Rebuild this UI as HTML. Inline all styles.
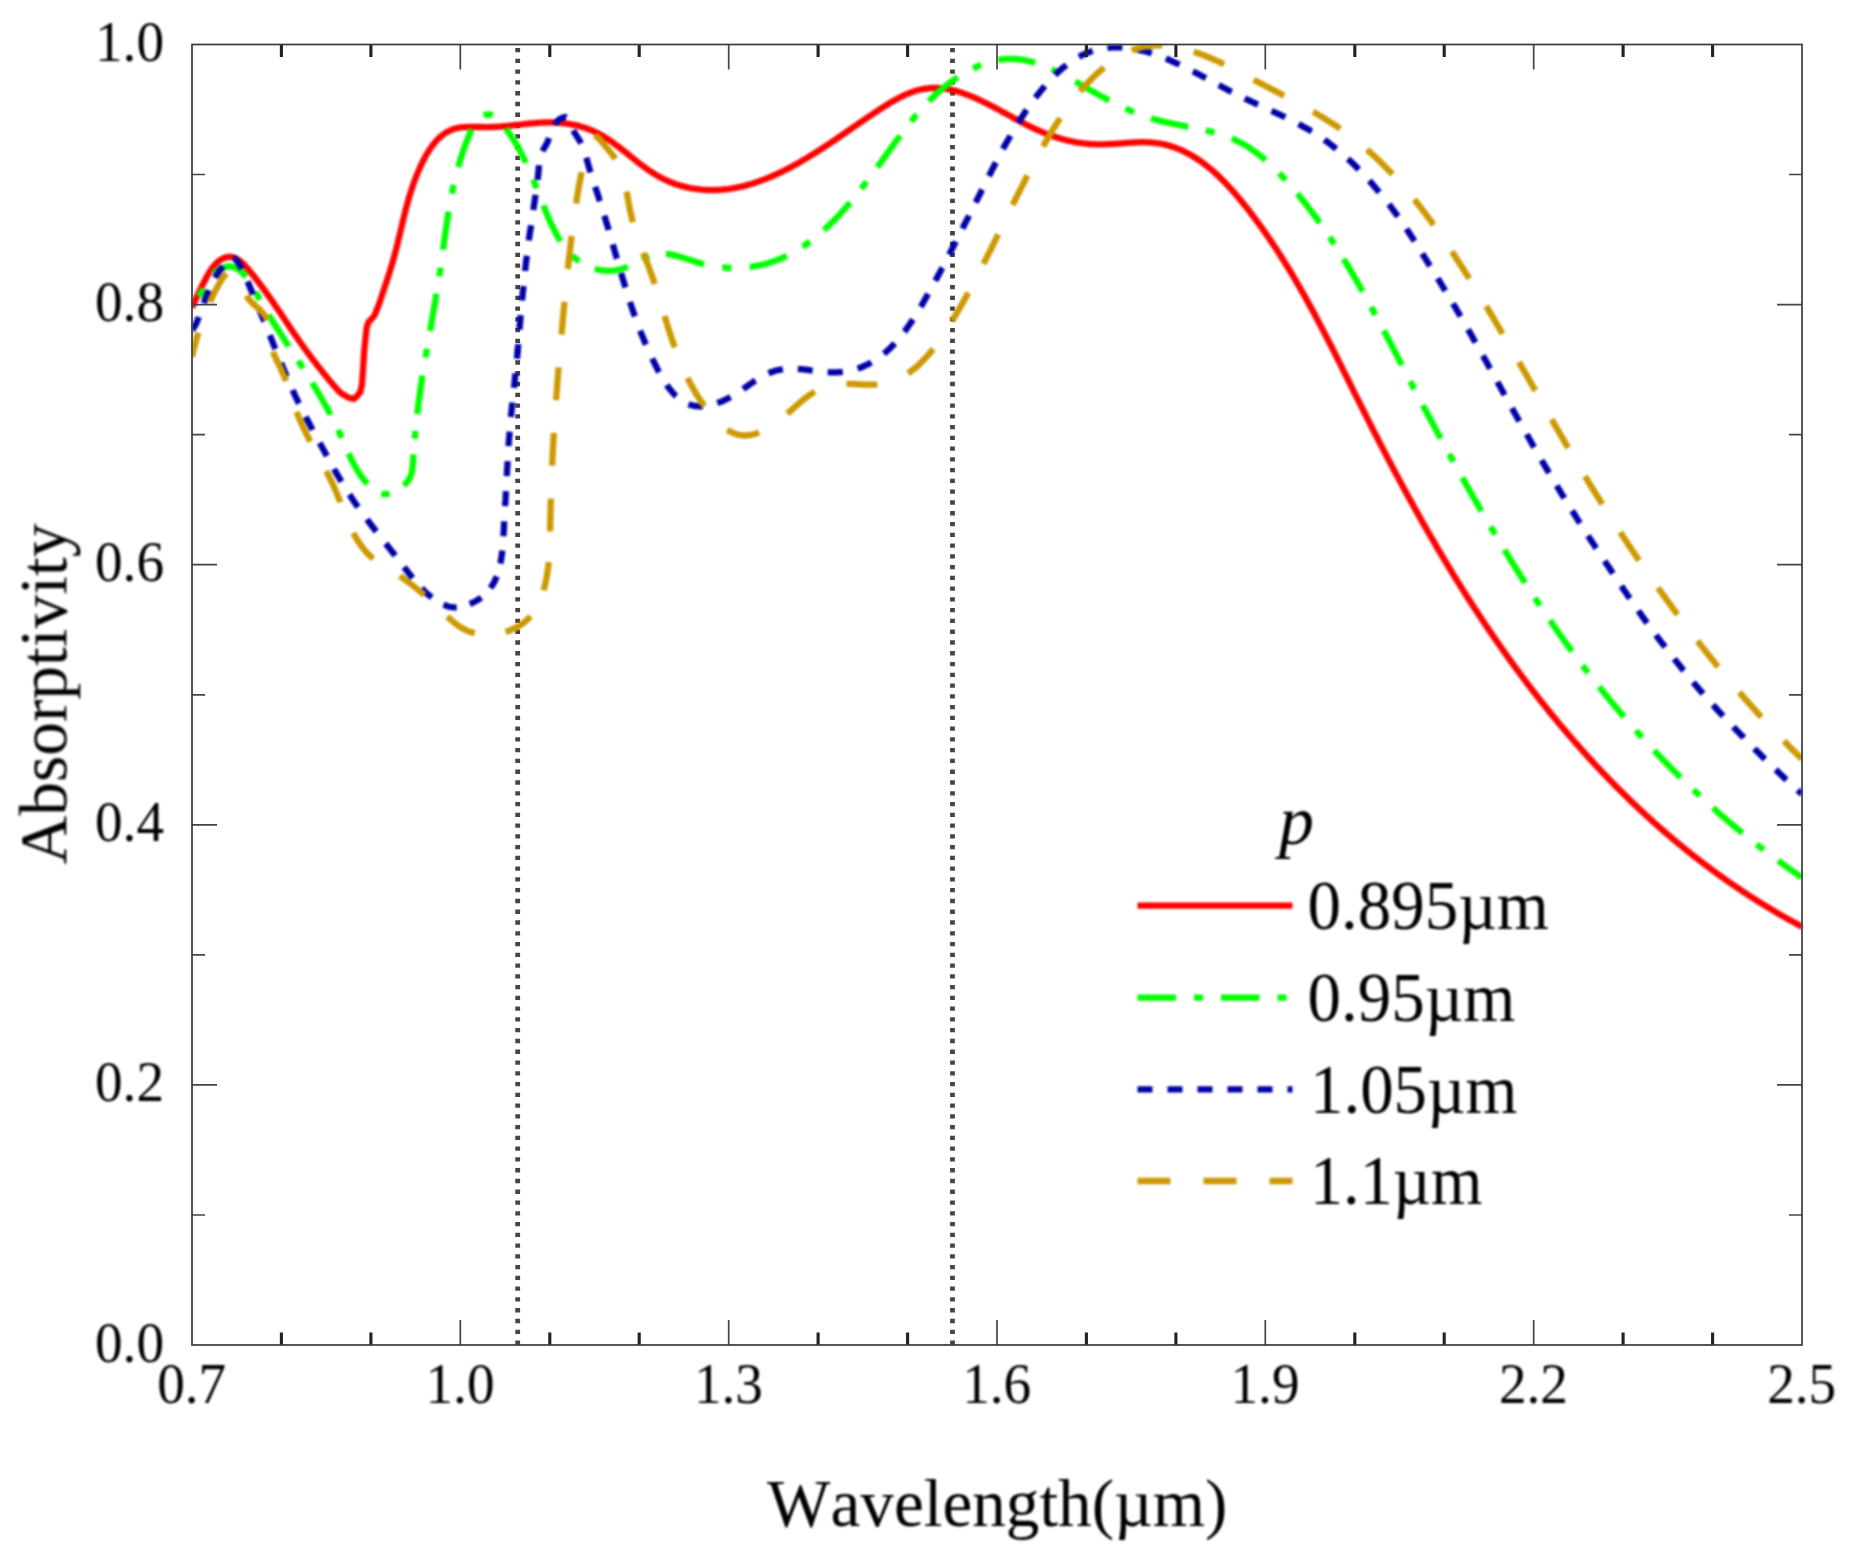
<!DOCTYPE html><html><head><meta charset="utf-8"><title>Absorptivity vs Wavelength</title>
<style>html,body{margin:0;padding:0;background:#fff}svg{display:block}text{font-family:"Liberation Serif","Times New Roman",serif;fill:#000;font-kerning:none;stroke:none}</style></head><body>
<svg width="1856" height="1557" viewBox="0 0 1856 1557">
<rect width="1856" height="1557" fill="#fff"/>
<defs><filter id="soft" x="0" y="0" width="1856" height="1557" filterUnits="userSpaceOnUse" color-interpolation-filters="sRGB"><feGaussianBlur stdDeviation="0.8"/></filter></defs>
<line x1="517.7" y1="48.0" x2="517.7" y2="1345.0" stroke="#454545" stroke-width="4.8" stroke-dasharray="4.3 6.47"/>
<line x1="952.5" y1="48.0" x2="952.5" y2="1345.0" stroke="#454545" stroke-width="4.8" stroke-dasharray="4.3 6.47"/>
<g filter="url(#soft)">
<defs><clipPath id="c"><rect x="192.0" y="44.5" width="1610.0" height="1300.5"/></clipPath></defs>

<g clip-path="url(#c)" fill="none" stroke-linejoin="round" stroke-width="6.3">
<path d="M192.0 307.7L192.8 305.8L193.6 303.9L194.4 302.1L195.3 300.2L196.1 298.4L196.9 296.6L197.7 294.8L198.6 293.1L199.4 291.3L200.3 289.5L201.2 287.8L202.0 286.0L202.9 284.2L203.8 282.4L204.8 280.6L205.7 278.8L206.6 277.0L207.6 275.2L208.6 273.5L209.7 271.7L210.8 270.0L212.0 268.3L213.2 266.7L214.5 265.2L215.8 263.7L217.3 262.3L218.8 261.1L220.4 259.9L222.1 258.9L224.0 258.0L225.9 257.4L227.8 256.9L229.8 256.8L231.7 257.0L233.7 257.5L235.5 258.3L237.4 259.2L239.1 260.4L240.7 261.6L242.2 262.9L243.7 264.3L245.1 265.8L246.5 267.3L247.8 268.9L249.1 270.4L250.4 272.0L251.7 273.6L253.0 275.1L254.3 276.7L255.5 278.3L256.8 279.9L258.0 281.5L259.2 283.1L260.4 284.7L261.6 286.3L262.8 287.9L264.0 289.5L265.2 291.1L266.3 292.8L267.5 294.4L268.6 296.0L269.8 297.6L270.9 299.2L272.1 300.9L273.2 302.5L274.3 304.1L275.4 305.8L276.5 307.4L277.6 309.0L278.8 310.7L279.9 312.3L281.0 314.0L282.1 315.6L283.2 317.2L284.3 318.9L285.4 320.5L286.5 322.2L287.6 323.8L288.7 325.5L289.8 327.1L290.9 328.7L292.0 330.4L293.1 332.0L294.2 333.6L295.4 335.3L296.5 336.9L297.6 338.5L298.8 340.2L299.9 341.8L301.1 343.4L302.2 345.1L303.4 346.7L304.5 348.3L305.7 349.9L306.9 351.5L308.1 353.1L309.3 354.7L310.5 356.4L311.7 358.0L312.9 359.6L314.1 361.1L315.3 362.7L316.5 364.3L317.8 365.9L319.0 367.5L320.3 369.1L321.5 370.6L322.8 372.2L324.0 373.8L325.3 375.3L326.6 376.9L327.8 378.4L329.1 380.0L330.4 381.5L331.7 383.0L333.0 384.6L334.3 386.1L335.6 387.6L337.0 389.1L338.3 390.6L339.8 392.0L341.3 393.4L342.9 394.7L343.7 394.5L348.0 397.5L353.7 399.0L357.0 396.2L360.5 391.5L362.0 384.0L363.0 370.0L364.3 350.0L365.5 338.0L366.8 327.0L368.5 322.0L372.0 318.5L374.5 315.5L378.7 305.0L380.1 300.9L380.8 299.0L381.4 297.1L382.0 295.1L382.7 293.2L383.3 291.3L384.0 289.4L384.6 287.5L385.2 285.6L385.9 283.7L386.5 281.8L387.1 279.9L387.7 278.0L388.3 276.1L389.0 274.1L389.6 272.2L390.2 270.3L390.7 268.4L391.3 266.5L391.9 264.6L392.5 262.7L393.0 260.8L393.5 258.9L394.1 257.0L394.6 255.0L395.1 253.1L395.6 251.2L396.1 249.3L396.6 247.4L397.1 245.4L397.6 243.5L398.0 241.6L398.5 239.7L398.9 237.7L399.4 235.8L399.9 233.9L400.3 232.0L400.8 230.0L401.2 228.1L401.7 226.2L402.1 224.3L402.6 222.3L403.1 220.4L403.5 218.5L404.0 216.6L404.5 214.6L405.0 212.7L405.4 210.8L405.9 208.9L406.4 206.9L407.0 205.0L407.5 203.1L408.0 201.2L408.6 199.2L409.1 197.3L409.7 195.4L410.3 193.5L410.9 191.5L411.5 189.6L412.1 187.7L412.8 185.8L413.4 183.9L414.1 182.0L414.8 180.0L415.5 178.1L416.3 176.2L417.1 174.3L417.8 172.4L418.7 170.5L419.5 168.6L420.3 166.7L421.2 164.8L422.1 162.9L423.1 161.0L424.0 159.1L425.0 157.3L426.0 155.4L427.1 153.6L428.2 151.9L429.3 150.1L430.4 148.4L431.6 146.7L432.8 145.1L434.1 143.5L435.3 142.0L436.6 140.5L438.0 139.1L439.4 137.8L440.8 136.5L442.3 135.3L443.8 134.1L445.3 133.1L446.9 132.1L448.6 131.2L450.2 130.4L452.0 129.7L453.7 129.0L455.5 128.5L457.4 128.1L459.3 127.7L461.2 127.4L463.2 127.2L465.1 127.1L467.2 127.0L469.2 126.9L471.2 126.9L473.3 126.9L475.4 126.9L477.5 127.0L479.5 127.0L481.6 127.0L483.7 127.1L485.8 127.1L487.9 127.1L490.0 127.1L492.0 127.0L494.1 126.9L496.1 126.8L498.2 126.7L500.2 126.6L502.2 126.4L504.3 126.2L506.3 126.1L508.3 125.9L510.3 125.7L512.3 125.5L514.3 125.2L516.3 125.0L518.3 124.8L520.3 124.6L522.2 124.4L524.2 124.1L526.2 123.9L528.2 123.7L530.1 123.5L532.1 123.3L534.1 123.2L536.0 123.0L538.0 122.9L540.0 122.7L541.9 122.6L543.9 122.5L545.8 122.5L547.8 122.4L549.8 122.4L551.7 122.5L553.7 122.5L555.7 122.6L557.7 122.7L559.6 122.8L561.6 123.0L563.6 123.2L565.5 123.5L567.5 123.7L569.5 124.0L571.4 124.4L573.3 124.8L575.3 125.2L577.2 125.6L579.1 126.1L581.0 126.7L582.9 127.2L584.8 127.8L586.7 128.5L588.5 129.2L590.4 129.9L592.2 130.6L594.0 131.4L595.8 132.3L597.5 133.1L599.3 134.1L601.0 135.0L602.7 136.0L604.4 137.0L606.1 138.0L607.8 139.1L609.4 140.2L611.1 141.3L612.7 142.5L614.3 143.7L615.9 144.9L617.6 146.1L619.2 147.3L620.7 148.5L622.3 149.8L623.9 151.0L625.5 152.3L627.1 153.5L628.7 154.8L630.3 156.1L631.8 157.4L633.4 158.6L635.0 159.9L636.6 161.2L638.2 162.4L639.8 163.7L641.4 164.9L643.0 166.1L644.7 167.3L646.3 168.5L648.0 169.7L649.6 170.8L651.3 171.9L653.0 173.0L654.7 174.1L656.4 175.1L658.1 176.2L659.9 177.1L661.7 178.1L663.5 179.0L665.3 179.9L667.1 180.7L668.9 181.5L670.8 182.3L672.7 183.0L674.6 183.7L676.5 184.4L678.4 185.0L680.3 185.6L682.3 186.1L684.2 186.6L686.2 187.1L688.1 187.6L690.1 188.0L692.1 188.3L694.1 188.7L696.1 189.0L698.1 189.2L700.1 189.5L702.1 189.7L704.1 189.8L706.1 189.9L708.1 190.0L710.0 190.1L712.0 190.1L714.0 190.1L716.0 190.0L718.0 190.0L720.0 189.8L722.0 189.7L723.9 189.5L725.9 189.3L727.9 189.1L729.8 188.8L731.8 188.5L733.7 188.2L735.7 187.8L737.6 187.4L739.6 187.0L741.5 186.6L743.5 186.1L745.4 185.6L747.3 185.1L749.2 184.5L751.1 184.0L753.1 183.4L755.0 182.8L756.9 182.1L758.8 181.5L760.6 180.8L762.5 180.1L764.4 179.4L766.3 178.6L768.2 177.9L770.0 177.1L771.9 176.3L773.7 175.5L775.6 174.7L777.4 173.8L779.2 173.0L781.1 172.1L782.9 171.2L784.7 170.3L786.5 169.4L788.3 168.5L790.1 167.5L791.9 166.6L793.7 165.6L795.4 164.6L797.2 163.7L799.0 162.7L800.7 161.7L802.4 160.6L804.2 159.6L805.9 158.6L807.6 157.6L809.3 156.5L811.0 155.5L812.7 154.4L814.4 153.4L816.1 152.3L817.8 151.2L819.5 150.2L821.1 149.1L822.8 148.0L824.4 146.9L826.1 145.9L827.7 144.8L829.4 143.7L831.0 142.6L832.6 141.5L834.3 140.4L835.9 139.3L837.5 138.2L839.1 137.0L840.8 135.9L842.4 134.8L844.0 133.7L845.6 132.6L847.3 131.4L848.9 130.3L850.5 129.2L852.2 128.1L853.8 126.9L855.4 125.8L857.1 124.7L858.7 123.5L860.4 122.4L862.0 121.3L863.7 120.1L865.3 119.0L867.0 117.9L868.7 116.7L870.4 115.6L872.0 114.5L873.7 113.3L875.4 112.2L877.2 111.1L878.9 109.9L880.6 108.8L882.3 107.7L884.1 106.6L885.8 105.5L887.6 104.4L889.4 103.3L891.1 102.2L892.9 101.2L894.7 100.2L896.5 99.2L898.3 98.2L900.1 97.3L902.0 96.4L903.8 95.5L905.6 94.7L907.5 93.9L909.3 93.1L911.2 92.4L913.0 91.7L914.9 91.1L916.8 90.5L918.7 90.0L920.5 89.5L922.4 89.1L924.3 88.8L926.2 88.5L928.1 88.3L930.1 88.1L932.0 88.0L933.9 87.9L935.8 88.0L937.8 88.0L939.7 88.1L941.6 88.3L943.6 88.5L945.5 88.8L947.5 89.2L949.4 89.5L951.3 89.9L953.3 90.4L955.2 90.9L957.1 91.4L959.1 92.0L961.0 92.6L962.9 93.2L964.8 93.9L966.8 94.6L968.7 95.4L970.6 96.1L972.5 96.9L974.4 97.7L976.2 98.5L978.1 99.4L980.0 100.2L981.8 101.1L983.7 102.0L985.5 102.9L987.4 103.8L989.2 104.7L991.0 105.7L992.8 106.6L994.6 107.6L996.4 108.5L998.2 109.5L1000.0 110.4L1001.7 111.4L1003.5 112.4L1005.3 113.3L1007.0 114.3L1008.8 115.3L1010.6 116.2L1012.3 117.2L1014.1 118.2L1015.8 119.1L1017.6 120.1L1019.3 121.0L1021.1 121.9L1022.8 122.9L1024.6 123.8L1026.4 124.7L1028.1 125.6L1029.9 126.5L1031.7 127.3L1033.4 128.2L1035.2 129.0L1037.0 129.8L1038.8 130.6L1040.6 131.4L1042.4 132.1L1044.2 132.9L1046.0 133.6L1047.9 134.3L1049.7 135.0L1051.5 135.7L1053.4 136.3L1055.2 136.9L1057.1 137.5L1058.9 138.1L1060.8 138.7L1062.7 139.2L1064.6 139.7L1066.5 140.2L1068.4 140.7L1070.3 141.1L1072.2 141.5L1074.2 141.9L1076.1 142.3L1078.1 142.6L1080.0 142.9L1082.0 143.2L1084.0 143.4L1086.0 143.6L1088.0 143.8L1090.0 144.0L1092.0 144.1L1094.1 144.2L1096.1 144.3L1098.2 144.4L1100.2 144.4L1102.3 144.4L1104.4 144.3L1106.5 144.2L1108.6 144.2L1110.7 144.0L1112.8 143.9L1115.0 143.8L1117.1 143.6L1119.2 143.5L1121.3 143.3L1123.5 143.2L1125.6 143.0L1127.7 142.9L1129.8 142.7L1131.9 142.6L1134.1 142.5L1136.2 142.4L1138.2 142.3L1140.3 142.2L1142.4 142.2L1144.5 142.2L1146.5 142.3L1148.5 142.3L1150.6 142.5L1152.6 142.6L1154.5 142.8L1156.5 143.1L1158.4 143.3L1160.4 143.7L1162.3 144.0L1164.2 144.4L1166.1 144.9L1167.9 145.4L1169.8 145.9L1171.6 146.5L1173.4 147.1L1175.2 147.7L1177.0 148.4L1178.8 149.1L1180.6 149.8L1182.3 150.6L1184.0 151.4L1185.7 152.3L1187.4 153.1L1189.1 154.1L1190.8 155.0L1192.5 156.0L1194.1 157.0L1195.7 158.0L1197.3 159.0L1198.9 160.1L1200.5 161.2L1202.1 162.3L1203.7 163.5L1205.2 164.7L1206.8 165.9L1208.3 167.1L1209.8 168.4L1211.3 169.6L1212.8 170.9L1214.3 172.2L1215.8 173.6L1217.2 174.9L1218.7 176.3L1220.1 177.7L1221.5 179.1L1223.0 180.5L1224.4 181.9L1225.8 183.4L1227.2 184.8L1228.5 186.3L1229.9 187.8L1231.3 189.3L1232.6 190.8L1233.9 192.4L1235.3 193.9L1236.6 195.4L1237.9 197.0L1239.2 198.5L1240.5 200.1L1241.8 201.7L1243.1 203.3L1244.4 204.9L1245.6 206.4L1246.9 208.0L1248.2 209.6L1249.4 211.2L1250.6 212.8L1251.9 214.5L1253.1 216.1L1254.3 217.7L1255.5 219.3L1256.7 220.9L1257.9 222.6L1259.1 224.2L1260.3 225.8L1261.5 227.5L1262.7 229.1L1263.8 230.7L1265.0 232.4L1266.1 234.0L1267.3 235.7L1268.4 237.3L1269.6 239.0L1270.7 240.7L1271.8 242.3L1272.9 244.0L1274.0 245.7L1275.2 247.4L1276.3 249.0L1277.4 250.7L1278.4 252.4L1279.5 254.1L1280.6 255.8L1281.7 257.5L1282.8 259.2L1283.8 260.9L1284.9 262.6L1285.9 264.3L1287.0 266.0L1288.0 267.7L1289.1 269.4L1290.1 271.1L1291.1 272.8L1292.2 274.5L1293.2 276.2L1294.2 278.0L1295.2 279.7L1296.2 281.4L1297.2 283.2L1298.3 284.9L1299.2 286.6L1300.2 288.3L1301.2 290.1L1302.2 291.8L1303.2 293.6L1304.2 295.3L1305.2 297.1L1306.1 298.8L1307.1 300.6L1308.1 302.3L1309.0 304.1L1310.0 305.8L1311.0 307.6L1311.9 309.3L1312.9 311.1L1313.8 312.8L1314.8 314.6L1315.7 316.4L1316.6 318.1L1317.6 319.9L1318.5 321.7L1319.4 323.4L1320.4 325.2L1321.3 327.0L1322.2 328.7L1323.1 330.5L1324.1 332.3L1325.0 334.1L1325.9 335.8L1326.8 337.6L1327.7 339.4L1328.6 341.2L1329.6 343.0L1330.5 344.7L1331.4 346.5L1332.3 348.3L1333.2 350.1L1334.1 351.9L1335.0 353.7L1335.9 355.5L1336.8 357.2L1337.7 359.0L1338.6 360.8L1339.5 362.6L1340.4 364.4L1341.3 366.2L1342.2 368.0L1343.0 369.8L1343.9 371.6L1344.8 373.3L1345.7 375.1L1346.6 376.9L1347.5 378.7L1348.4 380.5L1349.3 382.3L1350.2 384.1L1351.1 385.9L1352.0 387.7L1352.8 389.5L1353.7 391.3L1354.6 393.1L1355.5 394.9L1356.4 396.6L1357.3 398.4L1358.2 400.2L1359.1 402.0L1360.0 403.8L1360.9 405.6L1361.8 407.4L1362.7 409.2L1363.6 411.0L1364.5 412.8L1365.4 414.5L1366.3 416.3L1367.2 418.1L1368.1 419.9L1369.0 421.7L1369.9 423.5L1370.8 425.3L1371.7 427.0L1372.6 428.8L1373.5 430.6L1374.4 432.4L1375.3 434.2L1376.2 436.0L1377.2 437.7L1378.1 439.5L1379.0 441.3L1379.9 443.1L1380.8 444.9L1381.7 446.6L1382.7 448.4L1383.6 450.2L1384.5 452.0L1385.4 453.7L1386.4 455.5L1387.3 457.3L1388.2 459.1L1389.1 460.8L1390.1 462.6L1391.0 464.4L1391.9 466.1L1392.9 467.9L1393.8 469.7L1394.8 471.5L1395.7 473.2L1396.6 475.0L1397.6 476.8L1398.5 478.5L1399.5 480.3L1400.4 482.0L1401.4 483.8L1402.3 485.6L1403.3 487.3L1404.2 489.1L1405.2 490.8L1406.1 492.6L1407.1 494.4L1408.0 496.1L1409.0 497.9L1410.0 499.6L1410.9 501.4L1411.9 503.1L1412.9 504.9L1413.8 506.6L1414.8 508.4L1415.8 510.1L1416.7 511.9L1417.7 513.6L1418.7 515.4L1419.7 517.1L1420.7 518.9L1421.6 520.6L1422.6 522.4L1423.6 524.1L1424.6 525.8L1425.6 527.6L1426.6 529.3L1427.6 531.0L1428.6 532.8L1429.6 534.5L1430.6 536.3L1431.6 538.0L1432.6 539.7L1433.6 541.4L1434.6 543.2L1435.6 544.9L1436.6 546.6L1437.6 548.4L1438.6 550.1L1439.6 551.8L1440.7 553.5L1441.7 555.2L1442.7 557.0L1443.7 558.7L1444.8 560.4L1445.8 562.1L1446.8 563.8L1447.9 565.5L1448.9 567.3L1449.9 569.0L1451.0 570.7L1452.0 572.4L1453.0 574.1L1454.1 575.8L1455.1 577.5L1456.2 579.2L1457.2 580.9L1458.3 582.6L1459.4 584.3L1460.4 586.0L1461.5 587.7L1462.5 589.4L1463.6 591.1L1464.7 592.8L1465.7 594.5L1466.8 596.2L1467.9 597.9L1469.0 599.5L1470.1 601.2L1471.1 602.9L1472.2 604.6L1473.3 606.3L1474.4 608.0L1475.5 609.6L1476.6 611.3L1477.7 613.0L1478.8 614.7L1479.9 616.3L1481.0 618.0L1482.1 619.7L1483.2 621.3L1484.3 623.0L1485.4 624.7L1486.5 626.3L1487.7 628.0L1488.8 629.7L1489.9 631.3L1491.0 633.0L1492.2 634.6L1493.3 636.3L1494.4 637.9L1495.6 639.6L1496.7 641.2L1497.9 642.9L1499.0 644.5L1500.2 646.2L1501.3 647.8L1502.5 649.5L1503.6 651.1L1504.8 652.7L1505.9 654.4L1507.1 656.0L1508.3 657.6L1509.4 659.3L1510.6 660.9L1511.8 662.5L1513.0 664.1L1514.1 665.8L1515.3 667.4L1516.5 669.0L1517.7 670.6L1518.9 672.2L1520.1 673.8L1521.3 675.4L1522.5 677.1L1523.7 678.7L1524.9 680.3L1526.1 681.9L1527.3 683.5L1528.5 685.1L1529.7 686.7L1530.9 688.2L1532.2 689.8L1533.4 691.4L1534.6 693.0L1535.8 694.6L1537.1 696.2L1538.3 697.8L1539.5 699.3L1540.8 700.9L1542.0 702.5L1543.3 704.1L1544.5 705.6L1545.8 707.2L1547.0 708.8L1548.3 710.3L1549.5 711.9L1550.8 713.4L1552.1 715.0L1553.3 716.5L1554.6 718.1L1555.9 719.6L1557.2 721.2L1558.4 722.7L1559.7 724.3L1561.0 725.8L1562.3 727.3L1563.6 728.9L1564.9 730.4L1566.2 731.9L1567.5 733.4L1568.8 735.0L1570.1 736.5L1571.4 738.0L1572.7 739.5L1574.0 741.0L1575.3 742.5L1576.6 744.0L1578.0 745.5L1579.3 747.0L1580.6 748.5L1581.9 750.0L1583.3 751.5L1584.6 753.0L1585.9 754.5L1587.3 756.0L1588.6 757.5L1590.0 758.9L1591.3 760.4L1592.7 761.9L1594.0 763.4L1595.4 764.8L1596.8 766.3L1598.1 767.7L1599.5 769.2L1600.9 770.7L1602.2 772.1L1603.6 773.6L1605.0 775.0L1606.4 776.4L1607.8 777.9L1609.2 779.3L1610.6 780.8L1611.9 782.2L1613.3 783.6L1614.7 785.0L1616.1 786.5L1617.6 787.9L1619.0 789.3L1620.4 790.7L1621.8 792.1L1623.2 793.5L1624.6 794.9L1626.1 796.3L1627.5 797.7L1628.9 799.1L1630.4 800.5L1631.8 801.9L1633.2 803.3L1634.7 804.6L1636.1 806.0L1637.6 807.4L1639.0 808.8L1640.5 810.1L1641.9 811.5L1643.4 812.8L1644.9 814.2L1646.3 815.5L1647.8 816.9L1649.3 818.2L1650.8 819.6L1652.2 820.9L1653.7 822.3L1655.2 823.6L1656.7 824.9L1658.2 826.2L1659.7 827.6L1661.2 828.9L1662.7 830.2L1664.2 831.5L1665.7 832.8L1667.2 834.1L1668.7 835.4L1670.3 836.7L1671.8 838.0L1673.3 839.3L1674.8 840.6L1676.4 841.8L1677.9 843.1L1679.4 844.4L1681.0 845.6L1682.5 846.9L1684.1 848.2L1685.6 849.4L1687.2 850.7L1688.7 851.9L1690.3 853.2L1691.9 854.4L1693.4 855.7L1695.0 856.9L1696.6 858.1L1698.1 859.3L1699.7 860.6L1701.3 861.8L1702.9 863.0L1704.5 864.2L1706.1 865.4L1707.7 866.6L1709.3 867.8L1710.9 869.0L1712.5 870.2L1714.1 871.4L1715.7 872.5L1717.3 873.7L1718.9 874.9L1720.6 876.1L1722.2 877.2L1723.8 878.4L1725.5 879.5L1727.1 880.7L1728.7 881.8L1730.4 883.0L1732.0 884.1L1733.7 885.3L1735.3 886.4L1737.0 887.5L1738.6 888.6L1740.3 889.7L1742.0 890.9L1743.6 892.0L1745.3 893.1L1747.0 894.2L1748.7 895.3L1750.3 896.4L1752.0 897.4L1753.7 898.5L1755.4 899.6L1757.1 900.7L1758.8 901.7L1760.5 902.8L1762.2 903.9L1763.9 904.9L1765.6 906.0L1767.4 907.0L1769.1 908.0L1770.8 909.1L1772.5 910.1L1774.3 911.1L1776.0 912.2L1777.7 913.2L1779.5 914.2L1781.2 915.2L1783.0 916.2L1784.7 917.2L1786.5 918.2L1788.2 919.2L1790.0 920.1L1791.8 921.1L1793.5 922.1L1795.3 923.1L1797.1 924.0L1798.9 925.0L1800.6 925.9L1802.4 926.9" stroke="#ff0000"/>
<path d="M192.0 304.0L193.5 302.6L194.9 301.2L196.3 299.7L197.5 298.1L198.7 296.5L199.9 294.8L201.0 293.1L202.0 291.4L202.9 289.6L203.9 287.9L204.9 286.1L205.8 284.4L206.9 282.6L207.9 280.9" stroke="#00ff00" stroke-dasharray="38.50 18.00 9.00 18.00" stroke-dashoffset="46.32"/>
<path d="M207.9 280.9L209.0 279.3L210.2 277.7L211.5 276.1L212.8 274.6L214.3 273.2L215.8 271.9L217.5 270.7L219.3 269.6L221.1 268.6L223.0 267.8L224.9 267.1L226.8 266.7L228.7 266.5L230.5 266.5L232.2 266.7L234.0 267.2L235.6 267.9L237.2 268.7L238.8 269.8L240.3 270.9L241.8 272.3L243.2 273.7L244.6 275.3L246.0 277.0L247.3 278.8L248.6 280.6L249.8 282.6L251.1 284.5L252.3 286.5L253.5 288.6L254.6 290.6L255.8 292.6L256.9 294.6L258.0 296.6L259.1 298.5L260.1 300.4L261.2 302.2L262.2 304.0L263.3 305.8L264.3 307.5" stroke="#00ff00" stroke-dasharray="38.23 17.87 8.94 17.87" stroke-dashoffset="73.98"/>
<path d="M264.3 307.5L265.3 309.3L266.3 311.0L267.4 312.7L268.4 314.3L269.4 316.0L270.4 317.7L271.4 319.3L272.5 321.0L273.5 322.6L274.5 324.3L275.6 325.9L276.6 327.6L277.7 329.2L278.7 330.8L279.8 332.5L280.8 334.1L281.9 335.8L282.9 337.4L284.0 339.0L285.1 340.7L286.1 342.3L287.2 344.0L288.3 345.6L289.4 347.3L290.4 348.9L291.5 350.5L292.6 352.2L293.7 353.8L294.7 355.5L295.8 357.1L296.9 358.8L298.0 360.5L299.0 362.1L300.1 363.8L301.2 365.4L302.3 367.1L303.4 368.8L304.4 370.5L305.5 372.1L306.6 373.8L307.6 375.5" stroke="#00ff00" stroke-dasharray="37.17 17.38 8.69 17.38" stroke-dashoffset="71.92"/>
<path d="M307.6 375.5L308.7 377.2L309.8 378.9L310.8 380.6L311.9 382.3L312.9 384.0L314.0 385.7L315.0 387.4L316.1 389.1L317.1 390.9L318.1 392.6L319.2 394.3L320.2 396.1L321.2 397.8L322.2 399.6L323.2 401.3L324.2 403.1L325.2 404.9L326.2 406.6L327.2 408.4L328.2 410.2L329.1 412.0L330.1 413.8L331.0 415.6L332.0 417.4L332.9 419.3L333.8 421.1L334.8 423.0L335.7 424.8L336.6 426.7L337.5 428.5L338.4 430.4L339.2 432.3L340.1 434.2L340.9 436.1L341.8 438.0L342.6 439.9L343.5 441.8L344.3 443.7L345.1 445.6" stroke="#00ff00" stroke-dasharray="36.71 17.16 8.58 17.16" stroke-dashoffset="71.03"/>
<path d="M345.1 445.6L346.0 447.5L346.8 449.4L347.6 451.3L348.5 453.2L349.4 455.1L350.2 456.9L351.1 458.8L352.0 460.6L352.9 462.4L353.8 464.2L354.8 466.0L355.8 467.7L356.8 469.4L357.8 471.1L358.8 472.7L359.9 474.4L361.0 475.9L362.2 477.5L363.4 479.0L364.6 480.5L365.8 481.9L367.1 483.3L368.5 484.6L369.8 485.9L371.3 487.1L372.7 488.3L374.3 489.4L375.8 490.5L377.4 491.5L379.1 492.5L380.8 493.3L382.6 493.8L384.4 494.1L386.2 494.1L388.0 493.9L389.9 493.4L391.7 492.7L393.6 491.9L395.5 491.0L397.3 490.0" stroke="#00ff00" stroke-dasharray="36.11 16.88 8.44 16.88" stroke-dashoffset="69.87"/>
<path d="M397.3 490.0L399.1 488.9L400.9 487.7L402.5 486.5L404.1 485.1L405.6 483.6L407.0 482.1L408.2 480.5L409.3 478.8L410.2 477.0L411.0 475.2L411.5 473.3L412.0 471.4L412.3 469.4L412.5 467.4L412.7 465.4L412.8 463.3L413.0 461.3L413.1 459.3L413.3 457.2L413.4 455.2L413.6 453.2L413.7 451.1L413.9 449.1L414.0 447.1L414.2 445.1L414.4 443.1L414.6 441.0L414.7 439.0L414.9 437.0L415.1 435.0L415.3 433.0L415.5 431.0L415.7 429.0L415.9 427.0L416.1 425.0L416.3 423.0" stroke="#00ff00" stroke-dasharray="33.70 15.75 7.88 15.75" stroke-dashoffset="65.21"/>
<path d="M416.3 423.0L416.5 421.0L416.7 419.0L416.9 417.0L417.1 415.1L417.3 413.1L417.6 411.1L417.8 409.1L418.0 407.1L418.3 405.1L418.5 403.1L418.8 401.1L419.1 399.1L419.3 397.2L419.6 395.2L419.9 393.2L420.1 391.2L420.4 389.2L420.7 387.2L421.0 385.2L421.3 383.3L421.6 381.3L421.9 379.3L422.2 377.3L422.5 375.3L422.8 373.3L423.1 371.4L423.5 369.4L423.8 367.4L424.1 365.4L424.4 363.4L424.8 361.4L425.1 359.5L425.4 357.5L425.8 355.5L426.1 353.5L426.5 351.5L426.8 349.6L427.1 347.6L427.5 345.6L427.8 343.6L428.1 341.7L428.5 339.7" stroke="#00ff00" stroke-dasharray="38.84 18.16 9.08 18.16" stroke-dashoffset="75.17"/>
<path d="M428.5 339.7L428.8 337.7L429.2 335.7L429.5 333.8L429.9 331.8L430.2 329.8L430.6 327.8L430.9 325.9L431.3 323.9L431.6 321.9L431.9 320.0L432.3 318.0L432.6 316.0L433.0 314.0L433.3 312.1L433.7 310.1L434.0 308.1L434.3 306.1L434.7 304.2L435.0 302.2L435.4 300.2L435.7 298.3L436.0 296.3L436.3 294.3L436.7 292.3L437.0 290.4L437.3 288.4L437.6 286.4L437.9 284.4L438.3 282.5L438.6 280.5L438.9 278.5L439.2 276.5L439.5 274.6L439.8 272.6L440.1 270.6L440.4 268.6L440.6 266.7L440.9 264.7L441.2 262.7L441.5 260.7L441.8 258.7" stroke="#00ff00" stroke-dasharray="37.83 17.69 8.84 17.69" stroke-dashoffset="73.21"/>
<path d="M441.8 258.7L442.0 256.7L442.3 254.8L442.6 252.8L442.9 250.8L443.1 248.8L443.4 246.8L443.7 244.9L444.0 242.9L444.2 240.9L444.5 238.9L444.8 236.9L445.1 235.0L445.3 233.0L445.6 231.0L445.9 229.0L446.2 227.1L446.5 225.1L446.8 223.1L447.1 221.1L447.4 219.2L447.7 217.2L448.0 215.2L448.3 213.3L448.7 211.3L449.0 209.3L449.3 207.4L449.7 205.4L450.0 203.4L450.4 201.5L450.8 199.5L451.1 197.6L451.5 195.6L451.9 193.6L452.3 191.7L452.7 189.7L453.1 187.8L453.5 185.8L454.0 183.9L454.4 181.9L454.9 180.0L455.3 178.0L455.8 176.1" stroke="#00ff00" stroke-dasharray="38.68 18.08 9.04 18.08" stroke-dashoffset="74.85"/>
<path d="M455.8 176.1L456.3 174.1L456.8 172.2L457.3 170.2L457.8 168.3L458.4 166.4L458.9 164.4L459.5 162.5L460.1 160.6L460.7 158.6L461.3 156.7L461.9 154.8L462.5 152.9L463.2 150.9L463.8 149.0L464.5 147.1L465.2 145.2L465.9 143.3L466.7 141.4L467.4 139.5L468.2 137.5L469.0 135.6L469.8 133.7L470.6 131.9L471.4 130.0L472.3 128.1L473.2 126.2L474.2 124.4L475.2 122.7L476.4 121.1L477.6 119.6L479.0 118.2L480.6 117.0L482.3 116.0L484.2 115.2L486.2 114.7L488.3 114.5L490.3 114.7L492.2 115.2L494.0 116.1L495.6 117.2L497.1 118.6L498.5 120.0L499.9 121.5" stroke="#00ff00" stroke-dasharray="40.13 18.76 9.38 18.76" stroke-dashoffset="77.65"/>
<path d="M499.9 121.5L501.2 123.0L502.5 124.6L503.8 126.1L505.0 127.7L506.2 129.2L507.4 130.8L508.6 132.4L509.7 134.0L510.9 135.6L512.0 137.3L513.0 138.9L514.1 140.6L515.1 142.3L516.1 143.9L517.1 145.6L518.1 147.4L519.0 149.1L520.0 150.8L520.9 152.6L521.8 154.3L522.7 156.1L523.6 157.8L524.4 159.6L525.3 161.4L526.1 163.2L527.0 165.0L527.8 166.9L528.6 168.7L529.4 170.5L530.2 172.4L531.0 174.2L531.7 176.1L532.5 177.9L533.3 179.8L534.0 181.7L534.8 183.5L535.5 185.4L536.3 187.3L537.0 189.2L537.8 191.1L538.5 193.0L539.3 194.9L540.0 196.8" stroke="#00ff00" stroke-dasharray="39.58 18.51 9.25 18.51" stroke-dashoffset="76.59"/>
<path d="M540.0 196.8L540.8 198.8L541.5 200.7L542.3 202.6L543.0 204.5L543.8 206.5L544.6 208.4L545.4 210.3L546.1 212.2L546.9 214.2L547.7 216.1L548.6 218.0L549.4 219.9L550.2 221.8L551.1 223.7L552.0 225.5L552.9 227.4L553.8 229.2L554.7 231.1L555.7 232.9L556.6 234.7L557.6 236.4L558.6 238.2L559.7 239.9L560.8 241.6L561.8 243.2L563.0 244.8L564.1 246.4L565.3 248.0L566.5 249.5L567.8 251.0L569.0 252.4L570.4 253.8L571.7 255.2L573.1 256.5L574.5 257.7L576.0 259.0L577.4 260.1L579.0 261.3L580.5 262.3L582.2 263.3L583.8 264.3L585.5 265.2L587.3 266.0" stroke="#00ff00" stroke-dasharray="39.63 18.53 9.26 18.53" stroke-dashoffset="76.69"/>
<path d="M587.3 266.0L589.0 266.8L590.9 267.5L592.7 268.2L594.6 268.8L596.5 269.3L598.5 269.7L600.4 270.1L602.4 270.4L604.4 270.6L606.4 270.7L608.4 270.8L610.5 270.7L612.5 270.6L614.5 270.4L616.6 270.1L618.6 269.7L620.6 269.2L622.6 268.6L624.6 267.9L626.5 267.2L628.5 266.3L630.4 265.4L632.3 264.4L634.2 263.4L636.1 262.4L638.0 261.3L639.9 260.3L641.7 259.3L643.6 258.3L645.5 257.4L647.3 256.6L649.2 255.8L651.1 255.2L652.9 254.7L654.8 254.3L656.7 254.0" stroke="#00ff00" stroke-dasharray="33.90 15.85 7.92 15.85" stroke-dashoffset="65.60"/>
<path d="M656.7 254.0L658.6 253.8L660.4 253.6L662.3 253.6L664.2 253.7L666.1 253.9L668.0 254.1L669.9 254.4L671.8 254.7L673.7 255.1L675.6 255.6L677.5 256.1L679.5 256.7L681.4 257.2L683.3 257.8L685.2 258.4L687.2 259.1L689.1 259.7L691.1 260.3L693.0 261.0L695.0 261.6L696.9 262.2L698.9 262.8L700.9 263.4L702.8 263.9L704.8 264.4L706.8 264.8L708.8 265.3L710.8 265.7L712.8 266.0L714.8 266.4L716.8 266.7L718.8 266.9L720.8 267.2L722.8 267.4L724.8 267.5L726.8 267.7L728.8 267.8L730.8 267.9L732.8 267.9L734.8 267.9L736.8 267.9L738.8 267.8L740.7 267.7" stroke="#00ff00" stroke-dasharray="39.58 18.50 9.25 18.50" stroke-dashoffset="76.58"/>
<path d="M740.7 267.7L742.7 267.6L744.7 267.4L746.7 267.3L748.6 267.0L750.6 266.8L752.6 266.5L754.5 266.2L756.4 265.9L758.4 265.5L760.3 265.1L762.2 264.7L764.1 264.2L766.0 263.7L767.9 263.2L769.7 262.6L771.6 262.0L773.4 261.4L775.2 260.8L777.1 260.1L778.9 259.4L780.7 258.6L782.4 257.9L784.2 257.1L786.0 256.2L787.7 255.4L789.4 254.5L791.2 253.6L792.9 252.7L794.6 251.7L796.3 250.7L797.9 249.7L799.6 248.7L801.2 247.6L802.9 246.6L804.5 245.5L806.1 244.3L807.7 243.2L809.3 242.0L810.9 240.8L812.5 239.6L814.1 238.4L815.7 237.1L817.2 235.9" stroke="#00ff00" stroke-dasharray="38.89 18.18 9.09 18.18" stroke-dashoffset="75.25"/>
<path d="M817.2 235.9L818.7 234.6L820.3 233.3L821.8 231.9L823.3 230.6L824.8 229.2L826.3 227.9L827.8 226.5L829.3 225.1L830.7 223.6L832.2 222.2L833.6 220.7L835.1 219.3L836.5 217.8L837.9 216.3L839.3 214.8L840.7 213.3L842.1 211.7L843.5 210.2L844.9 208.7L846.2 207.1L847.6 205.5L848.9 203.9L850.3 202.3L851.6 200.7L852.9 199.1L854.3 197.5L855.6 195.9L856.9 194.3L858.2 192.6L859.5 191.0L860.7 189.3L862.0 187.7L863.3 186.0L864.6 184.4L865.8 182.7L867.1 181.1L868.3 179.4L869.6 177.8L870.8 176.1L872.0 174.5" stroke="#00ff00" stroke-dasharray="38.05 17.79 8.90 17.79" stroke-dashoffset="73.63"/>
<path d="M872.0 174.5L873.3 172.8L874.5 171.1L875.7 169.5L876.9 167.8L878.1 166.2L879.3 164.5L880.5 162.8L881.7 161.2L882.9 159.5L884.0 157.9L885.2 156.2L886.4 154.6L887.6 152.9L888.8 151.3L889.9 149.7L891.1 148.0L892.3 146.4L893.5 144.8L894.6 143.1L895.8 141.5L897.0 139.9L898.2 138.3L899.4 136.7L900.5 135.1L901.7 133.5L902.9 131.9L904.1 130.3L905.3 128.7L906.5 127.2L907.8 125.6L909.0 124.1L910.2 122.5L911.4 121.0L912.7 119.5L913.9 117.9L915.2 116.4L916.4 114.9L917.7 113.5L918.9 112.0L920.2 110.5L921.5 109.1L922.8 107.6" stroke="#00ff00" stroke-dasharray="38.72 18.10 9.05 18.10" stroke-dashoffset="74.93"/>
<path d="M922.8 107.6L924.1 106.2L925.4 104.8L926.8 103.4L928.1 102.0L929.5 100.6L930.9 99.2L932.2 97.8L933.6 96.5L935.1 95.2L936.5 93.8L937.9 92.5L939.4 91.2L940.9 89.9L942.4 88.7L943.9 87.4L945.4 86.2L946.9 85.0L948.5 83.8L950.1 82.6L951.7 81.4L953.3 80.2L955.0 79.1L956.6 78.0L958.3 76.9L960.0 75.8L961.7 74.7L963.5 73.7L965.2 72.6L967.0 71.6L968.8 70.7L970.6 69.7L972.4 68.8L974.3 67.9L976.1 67.1L978.0 66.2L979.9 65.4L981.8 64.7L983.7 64.0L985.6 63.3L987.5 62.7L989.4 62.1" stroke="#00ff00" stroke-dasharray="37.64 17.60 8.80 17.60" stroke-dashoffset="72.83"/>
<path d="M989.4 62.1L991.3 61.5L993.2 61.0L995.2 60.6L997.1 60.2L999.0 59.8L1001.0 59.5L1002.9 59.3L1004.9 59.1L1006.8 58.9L1008.7 58.8L1010.7 58.8L1012.6 58.8L1014.5 58.9L1016.5 59.1L1018.4 59.2L1020.3 59.5L1022.2 59.8L1024.1 60.1L1026.1 60.5L1028.0 60.9L1029.9 61.3L1031.8 61.8L1033.7 62.4L1035.6 63.0L1037.5 63.6L1039.4 64.2L1041.3 64.9L1043.2 65.6L1045.0 66.4L1046.9 67.1L1048.8 67.9L1050.7 68.8L1052.5 69.6L1054.4 70.5L1056.3 71.4L1058.1 72.3L1060.0 73.2L1061.9 74.2L1063.7 75.1L1065.6 76.1L1067.4 77.1" stroke="#00ff00" stroke-dasharray="37.73 17.64 8.82 17.64" stroke-dashoffset="73.01"/>
<path d="M1067.4 77.1L1069.3 78.1L1071.1 79.1L1072.9 80.1L1074.7 81.1L1076.6 82.2L1078.4 83.2L1080.2 84.2L1082.0 85.3L1083.8 86.3L1085.6 87.3L1087.4 88.4L1089.2 89.4L1091.0 90.4L1092.8 91.4L1094.5 92.4L1096.3 93.4L1098.1 94.4L1099.8 95.4L1101.6 96.4L1103.4 97.3L1105.1 98.3L1106.9 99.2L1108.6 100.2L1110.4 101.1L1112.1 102.0L1113.9 102.9L1115.7 103.8L1117.4 104.7L1119.2 105.5L1120.9 106.4L1122.7 107.2L1124.5 108.0L1126.3 108.8L1128.0 109.6L1129.8 110.4L1131.6 111.2L1133.4 111.9L1135.2 112.6L1137.0 113.4L1138.8 114.1L1140.6 114.7L1142.5 115.4" stroke="#00ff00" stroke-dasharray="38.90 18.19 9.09 18.19" stroke-dashoffset="75.28"/>
<path d="M1142.5 115.4L1144.3 116.0L1146.1 116.7L1148.0 117.3L1149.9 117.9L1151.7 118.5L1153.6 119.0L1155.5 119.6L1157.5 120.1L1159.4 120.6L1161.3 121.1L1163.3 121.6L1165.2 122.1L1167.2 122.5L1169.2 122.9L1171.2 123.4L1173.2 123.8L1175.2 124.2L1177.2 124.6L1179.2 125.0L1181.2 125.4L1183.2 125.8L1185.2 126.2L1187.3 126.6L1189.3 127.0L1191.3 127.4L1193.3 127.8L1195.4 128.2L1197.4 128.6L1199.4 129.0L1201.4 129.5L1203.4 129.9L1205.4 130.4L1207.4 130.8L1209.4 131.3L1211.4 131.8L1213.3 132.3L1215.3 132.9L1217.2 133.4L1219.2 134.0L1221.1 134.6L1223.0 135.2" stroke="#00ff00" stroke-dasharray="38.29 17.90 8.95 17.90" stroke-dashoffset="74.09"/>
<path d="M1223.0 135.2L1224.9 135.8L1226.8 136.5L1228.7 137.2L1230.5 137.9L1232.4 138.7L1234.2 139.5L1236.0 140.3L1237.7 141.2L1239.5 142.1L1241.2 143.0L1243.0 143.9L1244.7 144.9L1246.4 145.9L1248.0 146.9L1249.7 148.0L1251.3 149.1L1252.9 150.2L1254.5 151.4L1256.1 152.5L1257.7 153.7L1259.2 154.9L1260.8 156.2L1262.3 157.4L1263.8 158.7L1265.3 160.0L1266.8 161.3L1268.3 162.6L1269.8 163.9L1271.2 165.3L1272.7 166.7L1274.1 168.1L1275.5 169.5L1276.9 170.9L1278.3 172.3L1279.7 173.7L1281.1 175.2L1282.5 176.6L1283.8 178.1L1285.2 179.6L1286.5 181.1L1287.9 182.6L1289.2 184.1L1290.5 185.6L1291.8 187.1" stroke="#00ff00" stroke-dasharray="40.27 18.83 9.41 18.83" stroke-dashoffset="77.92"/>
<path d="M1291.8 187.1L1293.1 188.6L1294.4 190.1L1295.7 191.7L1297.0 193.2L1298.3 194.7L1299.5 196.3L1300.8 197.8L1302.1 199.4L1303.3 200.9L1304.5 202.5L1305.8 204.1L1307.0 205.6L1308.2 207.2L1309.4 208.8L1310.7 210.4L1311.9 212.0L1313.1 213.6L1314.2 215.2L1315.4 216.8L1316.6 218.4L1317.8 220.0L1318.9 221.6L1320.1 223.2L1321.3 224.9L1322.4 226.5L1323.6 228.1L1324.7 229.8L1325.8 231.4L1327.0 233.1L1328.1 234.7L1329.2 236.4L1330.3 238.0L1331.4 239.7L1332.5 241.3L1333.6 243.0L1334.7 244.7L1335.8 246.3L1336.8 248.0L1337.9 249.7L1339.0 251.4" stroke="#00ff00" stroke-dasharray="36.79 17.20 8.60 17.20" stroke-dashoffset="71.20"/>
<path d="M1339.0 251.4L1340.0 253.1L1341.1 254.8L1342.1 256.5L1343.2 258.2L1344.2 259.9L1345.3 261.6L1346.3 263.3L1347.3 265.0L1348.4 266.7L1349.4 268.4L1350.4 270.1L1351.4 271.8L1352.4 273.6L1353.4 275.3L1354.4 277.0L1355.4 278.8L1356.4 280.5L1357.4 282.2L1358.4 284.0L1359.4 285.7L1360.4 287.4L1361.4 289.2L1362.3 290.9L1363.3 292.7L1364.3 294.4L1365.3 296.2L1366.2 297.9L1367.2 299.7L1368.1 301.5L1369.1 303.2L1370.1 305.0L1371.0 306.7L1372.0 308.5L1372.9 310.3L1373.9 312.0L1374.8 313.8L1375.8 315.6L1376.7 317.3L1377.7 319.1L1378.6 320.8L1379.6 322.6" stroke="#00ff00" stroke-dasharray="37.81 17.68 8.84 17.68" stroke-dashoffset="73.16"/>
<path d="M1379.6 322.6L1380.5 324.4L1381.5 326.1L1382.4 327.9L1383.3 329.7L1384.3 331.5L1385.2 333.2L1386.2 335.0L1387.1 336.8L1388.0 338.5L1389.0 340.3L1389.9 342.1L1390.8 343.9L1391.7 345.6L1392.7 347.4L1393.6 349.2L1394.5 351.0L1395.4 352.8L1396.4 354.5L1397.3 356.3L1398.2 358.1L1399.1 359.9L1400.1 361.7L1401.0 363.4L1401.9 365.2L1402.8 367.0L1403.8 368.8L1404.7 370.6L1405.6 372.3L1406.5 374.1L1407.5 375.9L1408.4 377.7L1409.3 379.5L1410.2 381.2L1411.1 383.0L1412.1 384.8L1413.0 386.6L1413.9 388.4L1414.9 390.1L1415.8 391.9L1416.8 393.7L1417.7 395.5L1418.6 397.3" stroke="#00ff00" stroke-dasharray="38.85 18.16 9.08 18.16" stroke-dashoffset="75.17"/>
<path d="M1418.6 397.3L1419.6 399.0L1420.5 400.8L1421.4 402.6L1422.4 404.4L1423.3 406.1L1424.3 407.9L1425.2 409.7L1426.2 411.5L1427.1 413.2L1428.1 415.0L1429.0 416.8L1430.0 418.6L1430.9 420.3L1431.9 422.1L1432.8 423.9L1433.8 425.6L1434.7 427.4L1435.7 429.2L1436.6 430.9L1437.6 432.7L1438.5 434.5L1439.5 436.2L1440.4 438.0L1441.4 439.8L1442.4 441.5L1443.3 443.3L1444.3 445.0L1445.3 446.8L1446.2 448.6L1447.2 450.3L1448.2 452.1L1449.1 453.8L1450.1 455.6L1451.1 457.3L1452.0 459.1L1453.0 460.8L1454.0 462.6L1454.9 464.3L1455.9 466.1L1456.9 467.8L1457.8 469.6" stroke="#00ff00" stroke-dasharray="37.93 17.74 8.87 17.74" stroke-dashoffset="73.40"/>
<path d="M1457.8 469.6L1458.8 471.3L1459.8 473.1L1460.7 474.8L1461.7 476.6L1462.7 478.3L1463.7 480.1L1464.7 481.8L1465.6 483.6L1466.6 485.3L1467.6 487.0L1468.6 488.8L1469.6 490.5L1470.6 492.3L1471.5 494.0L1472.5 495.7L1473.5 497.5L1474.5 499.2L1475.5 500.9L1476.5 502.7L1477.5 504.4L1478.5 506.1L1479.5 507.9L1480.5 509.6L1481.5 511.3L1482.5 513.0L1483.5 514.8L1484.5 516.5L1485.6 518.2L1486.6 519.9L1487.6 521.7L1488.6 523.4L1489.6 525.1L1490.6 526.8L1491.7 528.5L1492.7 530.2L1493.7 532.0L1494.7 533.7L1495.7 535.4L1496.8 537.1L1497.8 538.8L1498.8 540.5L1499.8 542.2" stroke="#00ff00" stroke-dasharray="38.70 18.09 9.05 18.09" stroke-dashoffset="74.88"/>
<path d="M1499.8 542.2L1500.9 543.9L1501.9 545.7L1502.9 547.4L1504.0 549.1L1505.0 550.8L1506.1 552.5L1507.1 554.2L1508.1 555.9L1509.2 557.6L1510.2 559.3L1511.3 561.0L1512.3 562.7L1513.4 564.4L1514.5 566.1L1515.5 567.8L1516.6 569.5L1517.6 571.1L1518.7 572.8L1519.8 574.5L1520.8 576.2L1521.9 577.9L1523.0 579.6L1524.1 581.3L1525.1 583.0L1526.2 584.6L1527.3 586.3L1528.4 588.0L1529.5 589.7L1530.6 591.4L1531.6 593.0L1532.7 594.7L1533.8 596.4L1534.9 598.1L1536.0 599.7L1537.1 601.4L1538.2 603.1L1539.4 604.7L1540.5 606.4L1541.6 608.1L1542.7 609.7L1543.9 611.4L1545.0 613.1" stroke="#00ff00" stroke-dasharray="38.73 18.11 9.05 18.11" stroke-dashoffset="74.95"/>
<path d="M1545.0 613.1L1546.1 614.7L1547.3 616.4L1548.4 618.0L1549.5 619.7L1550.7 621.4L1551.8 623.0L1553.0 624.7L1554.1 626.3L1555.3 628.0L1556.4 629.6L1557.6 631.3L1558.7 632.9L1559.9 634.5L1561.1 636.2L1562.2 637.8L1563.4 639.5L1564.6 641.1L1565.7 642.7L1566.9 644.4L1568.1 646.0L1569.3 647.6L1570.4 649.2L1571.6 650.9L1572.8 652.5L1574.0 654.1L1575.2 655.7L1576.4 657.3L1577.6 659.0L1578.8 660.6L1580.0 662.2L1581.2 663.8L1582.4 665.4L1583.6 667.0L1584.8 668.6L1586.1 670.2L1587.3 671.8L1588.5 673.4L1589.8 675.0L1591.0 676.6L1592.3 678.2L1593.5 679.7" stroke="#00ff00" stroke-dasharray="38.03 17.78 8.89 17.78" stroke-dashoffset="73.59"/>
<path d="M1593.5 679.7L1594.7 681.3L1596.0 682.9L1597.2 684.5L1598.5 686.1L1599.8 687.6L1601.0 689.2L1602.3 690.8L1603.6 692.3L1604.8 693.9L1606.1 695.5L1607.4 697.0L1608.7 698.6L1609.9 700.1L1611.2 701.7L1612.5 703.2L1613.8 704.8L1615.1 706.3L1616.4 707.9L1617.7 709.4L1619.0 711.0L1620.3 712.5L1621.6 714.0L1622.9 715.6L1624.2 717.1L1625.5 718.6L1626.8 720.1L1628.2 721.7L1629.5 723.2L1630.8 724.7L1632.1 726.2L1633.5 727.7L1634.8 729.2L1636.1 730.7L1637.5 732.2L1638.8 733.7L1640.2 735.2L1641.5 736.7L1642.8 738.2L1644.2 739.7L1645.5 741.1L1646.9 742.6L1648.2 744.1" stroke="#00ff00" stroke-dasharray="38.96 18.22 9.11 18.22" stroke-dashoffset="75.40"/>
<path d="M1648.2 744.1L1649.6 745.6L1651.0 747.0L1652.3 748.5L1653.7 750.0L1655.1 751.4L1656.4 752.9L1657.8 754.3L1659.2 755.8L1660.6 757.2L1662.0 758.7L1663.3 760.1L1664.7 761.5L1666.1 763.0L1667.5 764.4L1668.9 765.8L1670.3 767.3L1671.7 768.7L1673.1 770.1L1674.6 771.5L1676.0 772.9L1677.4 774.3L1678.8 775.7L1680.2 777.1L1681.7 778.5L1683.1 779.9L1684.5 781.3L1686.0 782.7L1687.4 784.1L1688.8 785.5L1690.3 786.9L1691.7 788.2L1693.2 789.6L1694.7 791.0L1696.1 792.4L1697.6 793.7L1699.0 795.1L1700.5 796.5L1701.9 797.8L1703.4 799.2L1704.8 800.5L1706.3 801.9" stroke="#00ff00" stroke-dasharray="37.77 17.66 8.83 17.66" stroke-dashoffset="73.09"/>
<path d="M1706.3 801.9L1707.8 803.2L1709.2 804.5L1710.7 805.9L1712.2 807.2L1713.7 808.5L1715.2 809.9L1716.6 811.2L1718.1 812.5L1719.6 813.8L1721.1 815.1L1722.6 816.4L1724.1 817.7L1725.6 819.0L1727.2 820.3L1728.7 821.6L1730.2 822.9L1731.7 824.2L1733.2 825.5L1734.8 826.8L1736.3 828.0L1737.8 829.3L1739.4 830.6L1740.9 831.8L1742.5 833.1L1744.0 834.3L1745.6 835.6L1747.1 836.8L1748.7 838.1L1750.2 839.3L1751.8 840.6L1753.4 841.8L1755.0 843.0L1756.5 844.2L1758.1 845.5L1759.7 846.7L1761.3 847.9L1762.9 849.1L1764.5 850.4L1766.0 851.6L1767.6 852.8L1769.2 854.0L1770.9 855.3" stroke="#00ff00" stroke-dasharray="38.64 18.07 9.03 18.07" stroke-dashoffset="74.77"/>
<path d="M1770.9 855.3L1772.5 856.5L1774.1 857.7L1775.7 858.9L1777.3 860.1L1778.9 861.2L1780.6 862.4L1782.2 863.6L1783.8 864.8L1785.5 866.0L1787.1 867.1L1788.7 868.3L1790.4 869.5L1792.0 870.6L1793.7 871.8L1795.4 872.9L1797.0 874.1L1798.7 875.2L1800.4 876.3L1802.0 877.5" stroke="#00ff00" stroke-dasharray="38.50 18.00 9.00 18.00" stroke-dashoffset="74.50"/>
<path d="M192.0 330.1L193.3 328.4L194.4 326.6L195.6 324.8L196.4 323.0L197.2 321.1L197.9 319.3L198.7 317.4L199.4 315.5L200.1 313.7L200.8 311.8L201.5 309.9" stroke="#0000a8" stroke-dasharray="15.00 15.00" stroke-dashoffset="0.10"/>
<path d="M201.5 309.9L202.1 308.0L202.8 306.1L203.5 304.3L204.2 302.4L204.8 300.5L205.5 298.7L206.2 296.8L207.0 295.0L207.7 293.1L208.4 291.3L209.2 289.5L210.0 287.7L210.8 285.9L211.7 284.1L212.6 282.3L213.5 280.5L214.4 278.8L215.4 277.1L216.5 275.4L217.5 273.7L218.7 272.0L219.9 270.4L221.1 268.7L222.3 267.1L223.5 265.5L224.8 264.0L226.2 262.4L227.6 260.9L229.1 259.5L230.6 258.5L232.2 257.9L233.7 258.0L235.1 258.8L236.4 260.2L237.8 262.0L239.0 264.0L240.2 265.9L241.3 267.9L242.3 269.8L243.2 271.6L244.1 273.5L245.0 275.3L245.8 277.2L246.6 279.0L247.3 280.8L248.1 282.6L248.8 284.4L249.6 286.3L250.3 288.1L251.1 289.9L251.9 291.7L252.7 293.6L253.4 295.4L254.2 297.2L255.0 299.1L255.8 300.9" stroke="#0000a8" stroke-dasharray="13.97 13.97" stroke-dashoffset="20.96"/>
<path d="M255.8 300.9L256.5 302.7L257.3 304.6L258.1 306.4L258.8 308.3L259.6 310.1L260.3 312.0L261.1 313.8L261.9 315.7L262.6 317.5L263.4 319.4L264.1 321.2L264.9 323.1L265.7 325.0L266.4 326.8L267.2 328.7L267.9 330.6L268.7 332.4L269.4 334.3L270.2 336.2L271.0 338.0L271.7 339.9L272.5 341.8L273.2 343.7L274.0 345.5L274.7 347.4L275.5 349.3L276.3 351.2L277.0 353.1L277.8 354.9L278.6 356.8L279.3 358.7L280.1 360.6L280.9 362.4L281.6 364.3L282.4 366.2L283.2 368.1L284.0 370.0L284.8 371.8L285.5 373.7L286.3 375.5L287.1 377.4L287.9 379.2L288.7 381.0L289.5 382.9L290.3 384.7L291.1 386.6L291.9 388.4L292.7 390.3L293.6 392.1L294.4 393.9L295.2 395.8L296.1 397.6L297.0 399.4L297.8 401.2L298.7 403.0L299.6 404.8L300.5 406.6L301.4 408.4L302.3 410.2" stroke="#0000a8" stroke-dasharray="14.85 14.85" stroke-dashoffset="22.28"/>
<path d="M302.3 410.2L303.2 412.0L304.1 413.7L305.1 415.5L306.0 417.3L306.9 419.1L307.8 420.9L308.8 422.6L309.7 424.4L310.6 426.2L311.6 428.0L312.5 429.7L313.4 431.5L314.4 433.3L315.3 435.0L316.3 436.8L317.2 438.6L318.2 440.3L319.2 442.1L320.2 443.8L321.1 445.5L322.1 447.3L323.1 449.0L324.0 450.7L325.0 452.5L325.9 454.2L326.8 456.0L327.7 457.7L328.7 459.4L329.6 461.1L330.6 462.9L331.5 464.6L332.5 466.3L333.5 468.0L334.4 469.7L335.4 471.4L336.4 473.1L337.4 474.8L338.4 476.5L339.4 478.1L340.4 479.8L341.4 481.4L342.4 483.1L343.4 484.7L344.4 486.4L345.4 488.0" stroke="#0000a8" stroke-dasharray="14.84 14.84" stroke-dashoffset="22.26"/>
<path d="M345.4 488.0L346.4 489.7L347.5 491.3L348.5 493.0L349.5 494.6L350.6 496.2L351.6 497.9L352.7 499.5L353.7 501.1L354.9 502.7L356.0 504.3L357.2 505.9L358.3 507.5L359.5 509.1L360.6 510.7L361.8 512.3L362.9 513.9L364.1 515.5L365.3 517.1L366.5 518.7L367.6 520.2L368.8 521.8L370.0 523.4L371.2 525.0L372.4 526.6L373.7 528.2L374.9 529.8L376.1 531.3L377.4 532.9L378.6 534.5L379.8 536.1L381.1 537.7L382.3 539.3L383.6 540.8L384.8 542.4L386.1 544.0L387.3 545.6L388.6 547.2L389.9 548.8L391.1 550.4L392.4 552.0L393.6 553.6L394.9 555.2L396.1 556.8L397.4 558.4L398.6 560.1L399.9 561.7" stroke="#0000a8" stroke-dasharray="15.28 15.28" stroke-dashoffset="22.91"/>
<path d="M399.9 561.7L401.1 563.3L402.4 564.9L403.7 566.6L404.9 568.2L406.2 569.8L407.5 571.4L408.7 573.1L410.0 574.7L411.3 576.3L412.6 577.9L413.9 579.5L415.2 581.1L416.5 582.6L417.9 584.2L419.2 585.7L420.6 587.2L422.0 588.6L423.4 590.0L424.8 591.4L426.2 592.8L427.7 594.1L429.1 595.3L430.6 596.5L432.1 597.7L433.6 598.8L435.2 599.9L436.7 600.9L438.3 601.9L440.0 602.8L441.6 603.7L443.3 604.5L445.0 605.2L446.7 605.9L448.5 606.5L450.3 606.9L452.1 607.2L454.0 607.4L455.8 607.4L457.7 607.3L459.7 607.1L461.6 606.7L463.5 606.3" stroke="#0000a8" stroke-dasharray="13.73 13.73" stroke-dashoffset="20.60"/>
<path d="M463.5 606.3L465.5 605.7L467.4 605.0L469.3 604.2L471.2 603.4L473.1 602.5L475.0 601.5L476.8 600.5L478.6 599.4L480.3 598.2L482.0 596.9L483.6 595.6L485.1 594.1L486.6 592.7L488.0 591.1L489.3 589.6L490.5 587.9L491.6 586.3L492.7 584.7L493.7 583.0L494.6 581.3L495.4 579.6L496.2 577.8L496.9 576.0L497.5 574.2L498.1 572.4L498.7 570.6L499.2 568.7L499.6 566.9L500.1 565.0L500.5 563.1L500.8 561.3L501.1 559.4L501.4 557.5L501.7 555.5L502.0 553.6L502.2 551.6L502.4 549.7L502.6 547.7L502.8 545.7L502.9 543.8" stroke="#0000a8" stroke-dasharray="13.28 13.28" stroke-dashoffset="19.93"/>
<path d="M502.9 543.8L503.1 541.8L503.2 539.8L503.3 537.9L503.4 535.9L503.6 533.9L503.7 532.0L503.8 530.0L503.9 528.0L504.0 526.0L504.0 524.0L504.2 522.0L504.3 519.9L504.4 517.9L504.5 515.9L504.6 513.9L504.7 512.0L504.8 510.0L505.0 508.0L505.1 506.0L505.2 504.0L505.3 502.0L505.5 500.0L505.6 498.0L505.7 496.0L505.8 494.0L505.9 491.9L506.0 489.9L506.1 487.9L506.2 485.9L506.3 483.9L506.5 481.9L506.6 479.9L506.7 477.9L506.8 475.9L506.9 473.9L507.0 471.8L507.1 469.8L507.2 467.8L507.4 465.7L507.5 463.7L507.6 461.7L507.7 459.6L507.9 457.6L508.0 455.5L508.1 453.5" stroke="#0000a8" stroke-dasharray="15.07 15.07" stroke-dashoffset="22.60"/>
<path d="M508.1 453.5L508.2 451.5L508.4 449.4L508.5 447.4L508.6 445.3L508.7 443.3L508.9 441.3L509.0 439.3L509.2 437.2L509.4 435.2L509.5 433.2L509.7 431.2L509.9 429.2L510.1 427.2L510.2 425.2L510.4 423.2L510.6 421.2L510.8 419.2L511.0 417.2L511.1 415.2L511.3 413.2L511.5 411.2L511.7 409.2L511.9 407.3L512.1 405.3L512.3 403.4L512.5 401.4L512.7 399.5L512.9 397.6L513.2 395.6L513.4 393.7L513.6 391.7L513.8 389.8L514.0 387.8L514.2 385.9L514.4 383.9L514.7 382.0L514.8 380.0L515.0 378.0L515.2 376.0L515.4 374.0L515.6 372.0L515.8 370.0L516.0 368.0L516.2 366.0" stroke="#0000a8" stroke-dasharray="14.64 14.64" stroke-dashoffset="21.96"/>
<path d="M516.2 366.0L516.4 364.1L516.6 362.1L516.8 360.1L517.0 358.1L517.2 356.1L517.4 354.1L517.6 352.1L517.7 350.1L517.9 348.0L518.1 346.0L518.2 344.0L518.4 342.0L518.6 340.0L518.7 337.9L518.9 335.9L519.1 333.9L519.3 331.9L519.4 329.9L519.6 327.9L519.8 325.8L519.9 323.9L520.1 321.9L520.3 319.9L520.4 318.0L520.6 316.0L520.8 314.1L520.9 312.1L521.1 310.1L521.3 308.2L521.5 306.2L521.6 304.3L521.8 302.3L522.0 300.3L522.2 298.4L522.4 296.4L522.6 294.5L522.8 292.5L523.0 290.5L523.2 288.6L523.4 286.6L523.6 284.6L523.8 282.7L524.0 280.7L524.2 278.7" stroke="#0000a8" stroke-dasharray="14.61 14.61" stroke-dashoffset="21.92"/>
<path d="M524.2 278.7L524.4 276.8L524.6 274.8L524.8 272.8L525.0 270.9L525.3 268.9L525.5 267.0L525.7 265.0L525.9 263.0L526.2 261.0L526.5 259.0L526.7 257.1L527.0 255.1L527.2 253.1L527.5 251.1L527.7 249.1L528.0 247.1L528.2 245.2L528.5 243.2L528.8 241.2L529.0 239.2L529.3 237.2L529.5 235.2L529.8 233.2L530.1 231.3L530.4 229.3L530.8 227.3L531.1 225.3L531.4 223.3L531.7 221.3L532.0 219.3L532.3 217.3L532.6 215.3L532.9 213.3L533.1 211.4L533.4 209.4L533.7 207.4L534.0 205.4L534.3 203.4L534.6 201.3L534.9 199.3L535.2 197.3L535.5 195.2L535.8 193.2L536.0 191.1L536.3 189.1L536.6 187.1" stroke="#0000a8" stroke-dasharray="15.42 15.42" stroke-dashoffset="23.13"/>
<path d="M536.6 187.1L536.9 185.0L537.1 183.0L537.4 180.9L537.7 178.9L537.9 176.8L538.2 174.7L538.4 172.7L538.6 170.6L538.7 168.6L538.9 166.5L539.1 164.5L539.3 162.5L539.6 160.5L540.0 158.5L540.4 156.6L541.0 154.7L541.7 152.8L542.5 151.0L543.5 149.2L544.5 147.5L545.5 145.8L546.5 144.1L547.4 142.3L548.1 140.6L548.7 138.8L549.3 137.0L549.9 135.1L550.5 133.3L551.2 131.5L551.9 129.6L552.7 127.8L553.7 126.0L554.8 124.3L556.1 122.6L557.5 121.1L558.9 119.7L560.6 118.6L562.3 117.8L564.1 117.2L565.9 117.1L567.4 117.9L568.6 119.4L569.6 121.3L570.4 123.3" stroke="#0000a8" stroke-dasharray="14.65 14.65" stroke-dashoffset="21.98"/>
<path d="M570.4 123.3L571.1 125.3L571.9 127.2L572.6 129.0L573.5 130.8L574.5 132.5L575.5 134.2L576.6 135.9L577.7 137.6L578.8 139.3L579.8 141.0L580.8 142.8L581.7 144.6L582.5 146.4L583.3 148.3L584.0 150.2L584.6 152.1L585.2 154.0L585.8 155.9L586.4 157.8L586.9 159.7L587.4 161.7L588.0 163.6L588.5 165.6L589.1 167.5L589.7 169.5L590.2 171.4L590.8 173.4L591.5 175.4L592.1 177.3L592.7 179.3L593.3 181.2L594.0 183.2L594.6 185.1L595.3 187.1L595.9 189.0L596.6 191.0L597.2 192.9L597.9 194.9L598.5 196.8L599.1 198.8L599.7 200.7L600.4 202.7L601.0 204.6L601.6 206.6L602.2 208.5" stroke="#0000a8" stroke-dasharray="15.23 15.23" stroke-dashoffset="22.84"/>
<path d="M602.2 208.5L602.8 210.5L603.4 212.4L604.0 214.4L604.6 216.3L605.2 218.3L605.8 220.2L606.3 222.1L606.9 224.0L607.5 225.9L608.0 227.8L608.6 229.7L609.1 231.6L609.7 233.5L610.2 235.3L610.8 237.2L611.3 239.1L611.8 241.0L612.4 242.9L612.9 244.7L613.4 246.6L614.0 248.5L614.5 250.4L615.0 252.2L615.6 254.1L616.1 255.9L616.6 257.7L617.2 259.6L617.7 261.4L618.2 263.2L618.8 265.1L619.3 266.9L619.8 268.7L620.4 270.6L620.9 272.4L621.4 274.2L622.0 276.0L622.5 277.9L623.1 279.7L623.6 281.6L624.2 283.4L624.8 285.3L625.3 287.2L625.9 289.1L626.5 290.9L627.1 292.8L627.6 294.7" stroke="#0000a8" stroke-dasharray="14.97 14.97" stroke-dashoffset="22.45"/>
<path d="M627.6 294.7L628.2 296.5L628.8 298.4L629.4 300.3L630.0 302.2L630.6 304.0L631.3 305.9L631.9 307.8L632.5 309.7L633.2 311.6L633.9 313.5L634.5 315.4L635.2 317.4L635.9 319.3L636.6 321.2L637.3 323.2L638.1 325.1L638.8 327.0L639.5 328.9L640.3 330.9L641.0 332.8L641.8 334.8L642.6 336.7L643.4 338.6L644.2 340.5L645.0 342.5L645.8 344.4L646.7 346.3L647.5 348.2L648.4 350.2L649.3 352.1L650.2 354.1L651.1 356.0L652.0 357.9L652.9 359.9L653.9 361.8L654.8 363.8L655.8 365.7L656.7 367.6L657.7 369.5L658.6 371.4L659.6 373.3L660.7 375.2L661.7 377.0L662.8 378.8" stroke="#0000a8" stroke-dasharray="15.22 15.22" stroke-dashoffset="22.83"/>
<path d="M662.8 378.8L663.8 380.6L664.9 382.3L666.1 384.0L667.2 385.7L668.4 387.3L669.6 388.8L670.8 390.4L672.1 391.8L673.3 393.3L674.6 394.7L675.9 396.0L677.3 397.2L678.7 398.4L680.1 399.5L681.6 400.6L683.0 401.5L684.6 402.4L686.1 403.2L687.7 404.0L689.4 404.6L691.0 405.1L692.7 405.6L694.5 405.9L696.3 406.2L698.2 406.3L700.1 406.3L702.0 406.3L704.0 406.1L705.9 405.9L707.9 405.6L710.0 405.2L712.0 404.7L714.0 404.1L716.0 403.5L718.0 402.8L720.0 402.1L722.0 401.3L723.9 400.4L725.9 399.5L727.8 398.5L729.6 397.5L731.5 396.4L733.3 395.3L735.1 394.2L736.9 393.1" stroke="#0000a8" stroke-dasharray="14.72 14.72" stroke-dashoffset="22.09"/>
<path d="M736.9 393.1L738.7 392.0L740.4 390.8L742.2 389.6L743.9 388.4L745.6 387.3L747.3 386.1L749.0 384.9L750.7 383.7L752.4 382.5L754.1 381.4L755.9 380.3L757.6 379.2L759.3 378.1L761.0 377.1L762.7 376.1L764.5 375.2L766.2 374.3L768.0 373.5L769.8 372.7L771.6 372.0L773.4 371.4L775.2 370.8L777.1 370.3L779.0 369.9L781.0 369.6L782.9 369.3L784.9 369.1L786.9 369.0L788.9 368.9L790.9 368.8L793.0 368.8L795.0 368.9L797.1 369.0L799.2 369.1L801.3 369.2L803.4 369.4L805.5 369.6L807.5 369.9L809.6 370.2L811.7 370.5L813.8 370.7L815.9 371.0L818.0 371.3L820.1 371.5" stroke="#0000a8" stroke-dasharray="14.95 14.95" stroke-dashoffset="22.42"/>
<path d="M820.1 371.5L822.1 371.7L824.2 371.9L826.3 372.1L828.4 372.2L830.4 372.3L832.5 372.3L834.5 372.3L836.5 372.3L838.5 372.2L840.5 372.1L842.5 371.9L844.4 371.7L846.4 371.4L848.3 371.0L850.2 370.7L852.1 370.2L854.0 369.7L855.9 369.2L857.7 368.6L859.5 368.0L861.3 367.3L863.1 366.5L864.9 365.7L866.7 364.9L868.4 364.0L870.1 363.1L871.8 362.1L873.5 361.1L875.1 360.1L876.8 359.0L878.4 357.9L879.9 356.8L881.5 355.6L883.0 354.5L884.5 353.2L886.0 352.0L887.4 350.7L888.9 349.4L890.3 348.0L891.7 346.6L893.1 345.1L894.5 343.7L895.9 342.2L897.2 340.6L898.5 339.1L899.8 337.5" stroke="#0000a8" stroke-dasharray="15.18 15.18" stroke-dashoffset="22.78"/>
<path d="M899.8 337.5L901.1 335.9L902.4 334.3L903.6 332.7L904.9 331.1L906.1 329.4L907.3 327.7L908.5 326.1L909.6 324.4L910.8 322.7L911.9 321.0L913.1 319.2L914.2 317.5L915.3 315.8L916.4 314.0L917.5 312.2L918.6 310.4L919.6 308.7L920.7 306.9L921.8 305.1L922.8 303.3L923.8 301.5L924.8 299.7L925.8 298.0L926.8 296.2L927.8 294.5L928.8 292.7L929.8 290.9L930.8 289.2L931.7 287.4L932.7 285.7L933.7 283.9L934.6 282.2L935.6 280.4L936.5 278.6L937.5 276.9L938.4 275.1L939.4 273.4L940.3 271.6L941.2 269.9L942.1 268.1L943.1 266.4L944.0 264.6L944.9 262.9L945.8 261.1" stroke="#0000a8" stroke-dasharray="14.89 14.89" stroke-dashoffset="22.33"/>
<path d="M945.8 261.1L946.7 259.4L947.6 257.6L948.5 255.9L949.4 254.1L950.3 252.4L951.2 250.6L952.1 248.9L953.0 247.1L953.9 245.3L954.9 243.5L955.8 241.7L956.7 239.9L957.6 238.1L958.5 236.3L959.5 234.5L960.4 232.7L961.3 230.9L962.2 229.1L963.1 227.3L964.0 225.5L964.9 223.7L965.8 221.9L966.7 220.1L967.7 218.3L968.6 216.6L969.5 214.8L970.4 213.0L971.3 211.2L972.2 209.4L973.1 207.6L974.0 205.8L974.9 204.0L975.8 202.2L976.7 200.4L977.6 198.7L978.5 196.9L979.4 195.1L980.3 193.4L981.1 191.6L982.0 189.9L982.9 188.1L983.7 186.4L984.6 184.7L985.5 182.9" stroke="#0000a8" stroke-dasharray="14.61 14.61" stroke-dashoffset="21.92"/>
<path d="M985.5 182.9L986.4 181.2L987.2 179.4L988.1 177.7L989.0 176.0L989.9 174.2L990.8 172.5L991.6 170.7L992.5 169.0L993.4 167.3L994.3 165.5L995.2 163.8L996.1 162.0L997.0 160.3L997.9 158.5L998.8 156.8L999.7 155.0L1000.6 153.3L1001.6 151.6L1002.5 149.8L1003.4 148.1L1004.4 146.4L1005.3 144.7L1006.3 142.9L1007.3 141.2L1008.3 139.5L1009.3 137.7L1010.3 136.0L1011.3 134.2L1012.3 132.5L1013.3 130.8L1014.3 129.1L1015.4 127.3L1016.4 125.6L1017.5 123.9L1018.6 122.2L1019.7 120.5L1020.8 118.8L1021.9 117.1L1023.0 115.4L1024.1 113.7L1025.2 112.0L1026.3 110.4L1027.5 108.7L1028.7 107.0L1029.8 105.3L1031.0 103.7" stroke="#0000a8" stroke-dasharray="15.25 15.25" stroke-dashoffset="22.87"/>
<path d="M1031.0 103.7L1032.2 102.0L1033.4 100.4L1034.6 98.7L1035.9 97.1L1037.1 95.5L1038.4 93.9L1039.7 92.3L1041.0 90.7L1042.2 89.1L1043.6 87.5L1044.9 85.9L1046.2 84.4L1047.5 82.8L1048.9 81.3L1050.3 79.8L1051.7 78.4L1053.1 76.9L1054.5 75.5L1055.9 74.1L1057.4 72.7L1058.9 71.4L1060.4 70.0L1061.9 68.7L1063.4 67.4L1065.0 66.2L1066.6 64.9L1068.2 63.7L1069.8 62.6L1071.4 61.5L1073.1 60.4L1074.8 59.3L1076.4 58.3L1078.1 57.3L1079.9 56.4L1081.6 55.4L1083.4 54.6L1085.1 53.8L1086.9 53.0L1088.7 52.3L1090.6 51.6L1092.4 51.0L1094.3 50.4L1096.2 49.9L1098.1 49.4L1100.0 49.0" stroke="#0000a8" stroke-dasharray="15.03 15.03" stroke-dashoffset="22.54"/>
<path d="M1100.0 49.0L1102.0 48.6L1104.0 48.3L1105.9 48.0L1107.9 47.8L1110.0 47.6L1112.0 47.4L1114.0 47.3L1115.9 47.3L1117.9 47.4L1119.9 47.4L1122.0 47.5L1124.0 47.7L1126.0 47.8L1128.0 48.1L1130.0 48.3L1132.0 48.6L1134.0 48.9L1136.0 49.3L1138.0 49.7L1139.9 50.1L1141.9 50.6L1143.9 51.0L1145.8 51.5L1147.8 52.1L1149.7 52.6L1151.6 53.2L1153.5 53.8L1155.4 54.5L1157.2 55.1L1159.1 55.8L1160.9 56.5L1162.8 57.2L1164.6 58.0L1166.4 58.8L1168.2 59.5L1170.0 60.3L1171.8 61.2L1173.7 62.0L1175.5 62.8L1177.3 63.6L1179.2 64.5L1181.0 65.3L1182.8 66.2L1184.6 67.1L1186.4 68.0" stroke="#0000a8" stroke-dasharray="15.02 15.02" stroke-dashoffset="22.53"/>
<path d="M1186.4 68.0L1188.2 68.9L1190.0 69.8L1191.8 70.7L1193.6 71.6L1195.3 72.6L1197.1 73.5L1198.9 74.4L1200.6 75.4L1202.4 76.3L1204.2 77.2L1205.9 78.2L1207.7 79.1L1209.4 80.1L1211.2 81.0L1213.0 82.0L1214.7 82.9L1216.5 83.9L1218.3 84.8L1220.0 85.7L1221.8 86.7L1223.6 87.6L1225.3 88.6L1227.1 89.5L1228.8 90.5L1230.6 91.4L1232.3 92.3L1234.1 93.2L1235.9 94.1L1237.7 95.0L1239.4 95.9L1241.2 96.8L1243.0 97.6L1244.8 98.5L1246.6 99.3L1248.4 100.1L1250.2 101.0L1252.0 101.8L1253.8 102.7L1255.6 103.5L1257.4 104.4L1259.2 105.2L1261.0 106.0L1262.9 106.9L1264.7 107.7" stroke="#0000a8" stroke-dasharray="14.64 14.64" stroke-dashoffset="21.96"/>
<path d="M1264.7 107.7L1266.5 108.5L1268.3 109.4L1270.1 110.2L1271.9 111.0L1273.7 111.9L1275.5 112.7L1277.4 113.6L1279.2 114.4L1281.0 115.2L1282.8 116.1L1284.6 116.9L1286.4 117.8L1288.2 118.7L1290.0 119.6L1291.8 120.5L1293.6 121.4L1295.4 122.3L1297.2 123.2L1298.9 124.2L1300.7 125.2L1302.5 126.2L1304.2 127.2L1306.0 128.1L1307.7 129.1L1309.5 130.1L1311.2 131.2L1312.9 132.2L1314.6 133.3L1316.3 134.4L1318.0 135.5L1319.7 136.6L1321.4 137.7L1323.0 138.9L1324.7 140.1L1326.3 141.2L1328.0 142.4L1329.6 143.6L1331.2 144.9L1332.8 146.1L1334.3 147.4L1335.9 148.6L1337.5 149.9L1339.0 151.2L1340.5 152.5L1342.1 153.8" stroke="#0000a8" stroke-dasharray="15.07 15.07" stroke-dashoffset="22.61"/>
<path d="M1342.1 153.8L1343.6 155.1L1345.1 156.4L1346.6 157.7L1348.1 159.0L1349.5 160.4L1351.0 161.7L1352.4 163.1L1353.9 164.4L1355.3 165.8L1356.7 167.3L1358.1 168.7L1359.5 170.1L1360.9 171.6L1362.3 173.0L1363.7 174.5L1365.0 176.0L1366.4 177.4L1367.7 178.9L1369.1 180.4L1370.4 181.9L1371.7 183.4L1373.0 184.9L1374.3 186.4L1375.6 188.0L1376.9 189.5L1378.2 191.0L1379.5 192.6L1380.8 194.1L1382.0 195.6L1383.3 197.2L1384.6 198.8L1385.8 200.3L1387.0 201.9L1388.3 203.5L1389.5 205.1L1390.7 206.7L1391.9 208.3L1393.1 209.9L1394.3 211.5L1395.5 213.1L1396.6 214.7L1397.8 216.3L1398.9 217.9L1400.1 219.5L1401.2 221.2L1402.4 222.8" stroke="#0000a8" stroke-dasharray="15.32 15.32" stroke-dashoffset="22.98"/>
<path d="M1402.4 222.8L1403.5 224.4L1404.6 226.1L1405.7 227.7L1406.8 229.4L1407.9 231.0L1409.0 232.7L1410.1 234.4L1411.2 236.0L1412.3 237.7L1413.4 239.4L1414.4 241.0L1415.5 242.7L1416.6 244.4L1417.6 246.1L1418.7 247.8L1419.7 249.4L1420.8 251.1L1421.8 252.8L1422.8 254.5L1423.9 256.2L1424.9 257.9L1426.0 259.6L1427.1 261.3L1428.1 263.0L1429.2 264.7L1430.3 266.4L1431.3 268.1L1432.4 269.8L1433.5 271.5L1434.5 273.2L1435.6 274.9L1436.6 276.6L1437.7 278.3L1438.7 280.0L1439.8 281.7L1440.8 283.4L1441.8 285.1L1442.9 286.8L1443.9 288.5L1445.0 290.3L1446.0 292.0L1447.0 293.7L1448.1 295.4L1449.1 297.1" stroke="#0000a8" stroke-dasharray="14.63 14.63" stroke-dashoffset="21.94"/>
<path d="M1449.1 297.1L1450.1 298.8L1451.2 300.5L1452.2 302.2L1453.2 303.9L1454.2 305.6L1455.3 307.3L1456.3 309.1L1457.3 310.8L1458.3 312.5L1459.3 314.2L1460.3 316.0L1461.3 317.7L1462.3 319.4L1463.3 321.2L1464.3 322.9L1465.3 324.6L1466.3 326.4L1467.3 328.1L1468.3 329.8L1469.3 331.6L1470.3 333.3L1471.3 335.0L1472.3 336.8L1473.2 338.5L1474.2 340.3L1475.2 342.0L1476.2 343.8L1477.2 345.5L1478.2 347.3L1479.2 349.0L1480.1 350.8L1481.1 352.5L1482.1 354.3L1483.1 356.0L1484.1 357.8L1485.1 359.5L1486.1 361.3L1487.0 363.0L1488.0 364.8L1489.0 366.5L1489.9 368.3L1490.9 370.0L1491.9 371.8L1492.8 373.5L1493.8 375.3" stroke="#0000a8" stroke-dasharray="15.01 15.01" stroke-dashoffset="22.52"/>
<path d="M1493.8 375.3L1494.7 377.0L1495.7 378.8L1496.7 380.5L1497.6 382.3L1498.6 384.0L1499.6 385.8L1500.5 387.5L1501.5 389.3L1502.5 391.0L1503.4 392.8L1504.4 394.5L1505.4 396.3L1506.4 398.0L1507.3 399.8L1508.3 401.5L1509.3 403.3L1510.2 405.0L1511.2 406.8L1512.2 408.5L1513.1 410.3L1514.1 412.0L1515.1 413.8L1516.1 415.5L1517.1 417.3L1518.1 419.0L1519.0 420.8L1520.0 422.5L1521.0 424.3L1522.0 426.0L1523.0 427.8L1524.0 429.5L1525.0 431.3L1526.0 433.0L1527.0 434.8L1528.0 436.5L1529.0 438.3L1530.0 440.0L1530.9 441.8L1531.9 443.5L1532.9 445.2L1533.9 447.0L1534.9 448.7L1535.9 450.4L1536.9 452.1L1537.9 453.9" stroke="#0000a8" stroke-dasharray="15.02 15.02" stroke-dashoffset="22.54"/>
<path d="M1537.9 453.9L1538.9 455.6L1539.9 457.3L1540.9 459.1L1541.9 460.8L1542.9 462.5L1543.9 464.2L1544.9 466.0L1546.0 467.7L1547.0 469.4L1548.0 471.1L1549.0 472.8L1550.0 474.5L1551.0 476.3L1552.1 478.0L1553.1 479.7L1554.1 481.4L1555.1 483.1L1556.2 484.8L1557.2 486.5L1558.2 488.2L1559.3 489.9L1560.3 491.6L1561.3 493.4L1562.4 495.1L1563.5 496.8L1564.5 498.5L1565.6 500.3L1566.7 502.0L1567.7 503.7L1568.8 505.4L1569.9 507.2L1570.9 508.9L1572.0 510.6L1573.1 512.3L1574.2 514.0L1575.3 515.7L1576.3 517.4L1577.4 519.2L1578.5 520.9L1579.6 522.6L1580.7 524.3L1581.8 526.0L1582.8 527.7L1583.9 529.4" stroke="#0000a8" stroke-dasharray="14.74 14.74" stroke-dashoffset="22.11"/>
<path d="M1583.9 529.4L1585.0 531.1L1586.1 532.8L1587.2 534.5L1588.3 536.2L1589.4 537.9L1590.5 539.6L1591.6 541.2L1592.7 542.9L1593.8 544.6L1594.9 546.3L1596.0 548.0L1597.1 549.6L1598.2 551.3L1599.3 553.0L1600.4 554.7L1601.5 556.3L1602.6 558.0L1603.7 559.7L1604.8 561.3L1605.9 563.0L1607.1 564.7L1608.2 566.3L1609.3 568.0L1610.4 569.7L1611.5 571.3L1612.6 573.0L1613.7 574.7L1614.8 576.4L1615.9 578.0L1617.1 579.7L1618.2 581.4L1619.3 583.0L1620.4 584.7L1621.6 586.4L1622.7 588.0L1623.8 589.7L1624.9 591.3L1626.1 593.0L1627.2 594.7L1628.3 596.3L1629.5 598.0L1630.6 599.6L1631.8 601.3L1632.9 603.0L1634.0 604.6" stroke="#0000a8" stroke-dasharray="15.07 15.07" stroke-dashoffset="22.60"/>
<path d="M1634.0 604.6L1635.2 606.3L1636.3 607.9L1637.5 609.6L1638.6 611.2L1639.8 612.9L1641.0 614.5L1642.1 616.2L1643.3 617.8L1644.5 619.4L1645.6 621.0L1646.8 622.7L1648.0 624.3L1649.2 625.9L1650.4 627.5L1651.6 629.1L1652.7 630.7L1653.9 632.3L1655.1 633.9L1656.3 635.6L1657.5 637.2L1658.7 638.8L1659.9 640.4L1661.1 642.0L1662.4 643.5L1663.6 645.1L1664.8 646.7L1666.0 648.3L1667.2 649.9L1668.5 651.5L1669.7 653.0L1670.9 654.6L1672.1 656.2L1673.4 657.7L1674.6 659.3L1675.9 660.9L1677.1 662.4L1678.4 664.0L1679.6 665.6L1680.9 667.1L1682.1 668.7L1683.4 670.3L1684.7 671.8L1686.0 673.4L1687.2 674.9L1688.5 676.5" stroke="#0000a8" stroke-dasharray="15.04 15.04" stroke-dashoffset="22.55"/>
<path d="M1688.5 676.5L1689.8 678.1L1691.1 679.6L1692.4 681.2L1693.6 682.7L1694.9 684.2L1696.2 685.8L1697.5 687.3L1698.8 688.9L1700.2 690.4L1701.5 691.9L1702.8 693.4L1704.1 694.9L1705.4 696.4L1706.8 698.0L1708.1 699.5L1709.4 701.0L1710.8 702.5L1712.1 704.0L1713.5 705.5L1714.8 707.0L1716.2 708.5L1717.5 710.0L1718.9 711.4L1720.2 712.9L1721.6 714.4L1722.9 715.8L1724.3 717.3L1725.7 718.8L1727.0 720.2L1728.4 721.7L1729.8 723.1L1731.1 724.6L1732.5 726.0L1733.9 727.5L1735.3 728.9L1736.7 730.4L1738.1 731.8L1739.4 733.2L1740.8 734.7L1742.2 736.1L1743.6 737.5L1744.9 739.0L1746.3 740.4L1747.7 741.8L1749.1 743.2" stroke="#0000a8" stroke-dasharray="15.02 15.02" stroke-dashoffset="22.53"/>
<path d="M1749.1 743.2L1750.5 744.6L1751.9 746.0L1753.3 747.4L1754.7 748.9L1756.1 750.3L1757.5 751.7L1758.9 753.1L1760.3 754.5L1761.7 755.9L1763.0 757.3L1764.4 758.7L1765.8 760.1L1767.3 761.4L1768.7 762.8L1770.1 764.2L1771.5 765.6L1772.9 767.0L1774.3 768.4L1775.8 769.7L1777.2 771.1L1778.6 772.5L1780.0 773.8L1781.5 775.2L1782.9 776.6L1784.4 777.9L1785.8 779.3L1787.3 780.6L1788.7 782.0L1790.2 783.3L1791.6 784.7L1793.1 786.0L1794.6 787.4L1796.1 788.7L1797.5 790.0L1799.0 791.4L1800.5 792.7L1802.0 794.0" stroke="#0000a8" stroke-dasharray="15.00 15.00" stroke-dashoffset="22.50"/>
<path d="M192.0 357.0L192.4 355.0L192.9 353.1L193.3 351.1L193.8 349.1L194.3 347.2L194.8 345.2L195.3 343.3L195.8 341.4L196.3 339.4L196.8 337.5L197.4 335.6L198.0 333.7L198.5 331.7L199.1 329.8L199.7 327.9L200.4 326.0L201.0 324.1L201.7 322.2L202.4 320.3L203.1 318.4L203.8 316.5L204.5 314.6L205.3 312.7L206.1 310.8L206.8 308.9L207.6 307.1L208.4 305.2L209.3 303.4L210.1 301.6L210.9 299.8L211.7 298.1L212.6 296.3L213.4 294.6L214.3 292.9L215.2 291.1L216.1 289.4L217.1 287.5L218.1 285.7L219.2 283.8L220.3 281.8L221.5 279.8L222.8 277.8L224.2 276.1L225.6 274.7L227.1 273.6L228.7 273.0L230.4 273.0L232.1 273.6L233.8 274.6L235.5 275.9L237.1 277.5L238.5 279.3L239.8 281.2" stroke="#cc9900" stroke-dasharray="33.00 33.00" stroke-dashoffset="7.95"/>
<path d="M239.8 281.2L240.9 283.0L241.8 284.9L242.6 286.8L243.4 288.7L244.1 290.5L244.9 292.4L245.7 294.1L246.6 295.8L247.6 297.5L248.8 299.1L250.1 300.6L251.4 302.1L252.9 303.5L254.4 304.9L255.9 306.3L257.5 307.7L259.0 309.1L260.5 310.5L261.9 312.0L263.2 313.5L264.4 315.0L265.5 316.6L266.5 318.3L267.3 320.0L268.0 321.8L268.6 323.7L269.0 325.6L269.4 327.6L269.7 329.6L270.0 331.6L270.2 333.6L270.4 335.7" stroke="#cc9900" stroke-dasharray="32.14 32.14" stroke-dashoffset="48.21"/>
<path d="M270.4 335.7L270.6 337.7L270.8 339.8L271.1 341.9L271.3 343.9L271.7 345.9L272.1 347.9L272.5 349.9L273.1 351.8L273.8 353.7L274.6 355.6L275.4 357.4L276.2 359.2L277.1 361.0L278.0 362.8L278.9 364.6L279.7 366.4L280.6 368.2L281.4 370.1L282.2 371.9L283.0 373.7L283.8 375.6L284.6 377.4L285.3 379.3L286.0 381.2L286.7 383.0L287.4 384.9L288.1 386.8L288.7 388.7L289.4 390.6L290.0 392.5L290.6 394.4L291.3 396.4" stroke="#cc9900" stroke-dasharray="32.28 32.28" stroke-dashoffset="48.42"/>
<path d="M291.3 396.4L291.9 398.3L292.5 400.2L293.2 402.1L293.8 404.0L294.5 405.9L295.2 407.8L295.8 409.7L296.5 411.5L297.2 413.4L298.0 415.3L298.7 417.1L299.5 419.0L300.2 420.8L301.0 422.6L301.8 424.4L302.7 426.2L303.5 428.0L304.4 429.8L305.2 431.5L306.1 433.3L307.0 435.1L307.9 436.8L308.7 438.6L309.7 440.3L310.6 442.0L311.5 443.8L312.4 445.5L313.4 447.3L314.3 449.0L315.2 450.7L316.2 452.4L317.1 454.2L318.1 455.9" stroke="#cc9900" stroke-dasharray="32.72 32.72" stroke-dashoffset="49.07"/>
<path d="M318.1 455.9L319.0 457.6L320.0 459.4L320.9 461.1L321.8 462.9L322.8 464.6L323.7 466.4L324.7 468.1L325.6 469.9L326.5 471.6L327.4 473.4L328.3 475.2L329.2 477.0L330.1 478.7L331.0 480.5L331.9 482.4L332.7 484.2L333.6 486.0L334.4 487.9L335.2 489.7L336.0 491.6L336.8 493.5L337.6 495.4L338.3 497.3L339.1 499.2L339.9 501.1L340.6 503.0L341.3 504.9L342.1 506.8L342.8 508.7L343.6 510.7L344.3 512.6L345.1 514.5L345.9 516.4L346.6 518.2" stroke="#cc9900" stroke-dasharray="34.32 34.32" stroke-dashoffset="51.48"/>
<path d="M346.6 518.2L347.4 520.1L348.2 522.0L349.0 523.8L349.8 525.7L350.7 527.5L351.5 529.3L352.4 531.1L353.3 532.9L354.2 534.6L355.2 536.3L356.2 538.0L357.2 539.7L358.2 541.4L359.3 543.0L360.4 544.6L361.5 546.1L362.7 547.7L363.9 549.2L365.1 550.7L366.4 552.2L367.7 553.6L369.1 554.9L370.5 556.3L372.0 557.6L373.5 558.8L375.0 560.0L376.6 561.2L378.3 562.4L379.9 563.5L381.6 564.6L383.3 565.7L385.0 566.8L386.7 567.9" stroke="#cc9900" stroke-dasharray="32.64 32.64" stroke-dashoffset="48.96"/>
<path d="M386.7 567.9L388.5 569.0L390.2 570.0L392.0 571.1L393.7 572.2L395.5 573.2L397.2 574.3L398.9 575.4L400.6 576.6L402.3 577.7L404.0 578.9L405.6 580.1L407.3 581.3L408.9 582.5L410.4 583.7L412.0 584.9L413.6 586.1L415.1 587.4L416.6 588.6L418.1 589.9L419.6 591.1L421.1 592.4L422.6 593.7L424.1 595.0L425.5 596.3L427.0 597.6L428.4 599.0L429.9 600.3L431.3 601.6L432.7 603.0L434.1 604.3L435.5 605.6" stroke="#cc9900" stroke-dasharray="30.93 30.93" stroke-dashoffset="46.39"/>
<path d="M435.5 605.6L437.0 607.0L438.4 608.3L439.8 609.6L441.2 611.0L442.6 612.3L444.0 613.6L445.5 614.9L446.9 616.2L448.3 617.5L449.8 618.8L451.2 620.1L452.7 621.3L454.2 622.6L455.7 623.8L457.2 624.9L458.7 626.0L460.3 627.1L462.0 628.0L463.6 629.0L465.3 629.9L467.1 630.7L468.9 631.4L470.7 632.0L472.6 632.6L474.6 633.1L476.5 633.6L478.5 633.9L480.5 634.2L482.6 634.4L484.7 634.5L486.8 634.6L488.9 634.6L491.0 634.5" stroke="#cc9900" stroke-dasharray="32.43 32.43" stroke-dashoffset="48.64"/>
<path d="M491.0 634.5L493.1 634.3L495.2 634.1L497.3 633.8L499.4 633.4L501.5 632.9L503.5 632.4L505.6 631.8L507.6 631.2L509.6 630.5L511.5 629.7L513.4 628.8L515.3 627.9L517.2 626.9L519.0 625.9L520.7 624.9L522.4 623.7L524.0 622.5L525.6 621.3L527.0 619.9L528.5 618.5L529.8 617.1L531.1 615.6L532.3 614.0L533.5 612.4L534.6 610.8L535.6 609.1L536.6 607.3L537.5 605.6L538.4 603.8" stroke="#cc9900" stroke-dasharray="29.75 29.75" stroke-dashoffset="44.63"/>
<path d="M538.4 603.8L539.3 602.0L540.1 600.1L540.8 598.3L541.5 596.4L542.2 594.5L542.8 592.6L543.4 590.7L544.0 588.7L544.5 586.8L545.0 584.9L545.5 583.0L545.9 581.0L546.3 579.1L546.7 577.2L547.0 575.2L547.3 573.3L547.6 571.3L547.9 569.4L548.2 567.4L548.4 565.5L548.6 563.5L548.8 561.6L549.0 559.6L549.1 557.6L549.3 555.7L549.4 553.7L549.5 551.7L549.6 549.7L549.7 547.8" stroke="#cc9900" stroke-dasharray="28.76 28.76" stroke-dashoffset="43.15"/>
<path d="M549.7 547.8L549.8 545.8L549.8 543.8L549.9 541.8L549.9 539.8L550.0 537.8L550.0 535.9L550.1 533.9L550.1 531.9L550.1 529.9L550.2 527.9L550.2 525.9L550.2 523.9L550.3 522.0L550.3 520.0L550.4 518.0L550.4 516.0L550.5 514.0L550.5 512.0L550.6 510.0L550.6 508.0L550.7 506.0L550.7 504.0L550.8 502.0L550.9 500.0L550.9 498.1L551.0 496.1L551.1 494.1L551.1 492.1L551.2 490.1L551.3 488.1L551.3 486.1L551.4 484.1L551.5 482.1" stroke="#cc9900" stroke-dasharray="32.84 32.84" stroke-dashoffset="49.26"/>
<path d="M551.5 482.1L551.6 480.1L551.6 478.1L551.7 476.1L551.8 474.1L551.9 472.1L552.0 470.2L552.0 468.2L552.1 466.2L552.2 464.2L552.3 462.2L552.4 460.2L552.5 458.2L552.6 456.2L552.7 454.2L552.8 452.2L552.9 450.3L553.0 448.3L553.1 446.3L553.2 444.3L553.3 442.3L553.4 440.3L553.5 438.3L553.7 436.4L553.8 434.4L553.9 432.4L554.0 430.4L554.2 428.4L554.3 426.4L554.4 424.5L554.5 422.5L554.7 420.5L554.8 418.5L554.9 416.5" stroke="#cc9900" stroke-dasharray="32.84 32.84" stroke-dashoffset="49.26"/>
<path d="M554.9 416.5L555.1 414.5L555.2 412.5L555.3 410.6L555.5 408.6L555.6 406.6L555.8 404.6L555.9 402.6L556.0 400.6L556.2 398.7L556.3 396.7L556.5 394.7L556.6 392.7L556.8 390.7L556.9 388.8L557.1 386.8L557.2 384.8L557.4 382.8L557.5 380.8L557.7 378.8L557.9 376.9L558.0 374.9L558.2 372.9L558.3 370.9L558.5 368.9L558.6 366.9L558.8 364.9L559.0 363.0L559.1 361.0L559.3 359.0L559.5 357.0L559.6 355.0L559.8 353.0L560.0 351.1" stroke="#cc9900" stroke-dasharray="32.83 32.83" stroke-dashoffset="49.24"/>
<path d="M560.0 351.1L560.2 349.1L560.3 347.1L560.5 345.1L560.7 343.1L560.9 341.1L561.1 339.1L561.2 337.2L561.4 335.2L561.6 333.2L561.8 331.2L562.0 329.2L562.2 327.2L562.4 325.3L562.5 323.3L562.7 321.3L562.9 319.3L563.1 317.3L563.3 315.3L563.5 313.3L563.6 311.3L563.8 309.3L564.0 307.3L564.2 305.3L564.4 303.3L564.5 301.3L564.7 299.3L564.9 297.3L565.1 295.3L565.3 293.3L565.5 291.3L565.7 289.3L565.9 287.3L566.1 285.3" stroke="#cc9900" stroke-dasharray="33.03 33.03" stroke-dashoffset="49.54"/>
<path d="M566.1 285.3L566.3 283.3L566.5 281.3L566.7 279.3L566.9 277.3L567.1 275.3L567.4 273.3L567.6 271.3L567.8 269.3L568.0 267.3L568.2 265.3L568.5 263.3L568.7 261.3L568.9 259.3L569.2 257.3L569.4 255.3L569.6 253.3L569.9 251.3L570.1 249.3L570.3 247.3L570.5 245.3L570.8 243.3L571.0 241.3L571.3 239.3L571.5 237.4L571.7 235.4L572.0 233.4L572.2 231.4L572.5 229.4L572.8 227.4L573.0 225.4L573.3 223.4L573.5 221.4L573.8 219.4" stroke="#cc9900" stroke-dasharray="33.15 33.15" stroke-dashoffset="49.72"/>
<path d="M573.8 219.4L574.1 217.5L574.4 215.5L574.7 213.5L574.9 211.5L575.2 209.5L575.5 207.5L575.8 205.5L576.1 203.6L576.4 201.6L576.7 199.6L577.0 197.6L577.4 195.6L577.7 193.6L578.0 191.7L578.3 189.7L578.7 187.7L579.0 185.7L579.4 183.8L579.8 181.8L580.1 179.9L580.5 177.9L580.9 175.9L581.2 174.0L581.6 172.0L582.0 170.1L582.4 168.1L582.8 166.2L583.2 164.2L583.6 162.2L584.0 160.3L584.5 158.3L584.9 156.4" stroke="#cc9900" stroke-dasharray="32.02 32.02" stroke-dashoffset="48.03"/>
<path d="M584.9 156.4L585.3 154.4L585.8 152.5L586.3 150.6L586.9 148.7L587.4 146.8L588.1 144.9L588.7 143.0L589.4 141.1L590.2 139.3L591.1 137.5L592.0 135.8L593.1 134.8L594.7 135.2L596.5 136.6L598.2 138.1L599.7 139.6L601.2 141.1L602.5 142.7L603.8 144.2L605.0 145.7L606.2 147.2L607.5 148.7L608.7 150.2L610.0 151.8L611.3 153.3L612.5 154.9L613.7 156.5L614.9 158.1L616.0 159.8L617.0 161.5L618.0 163.2L618.9 165.0L619.8 166.8L620.5 168.7L621.3 170.5L622.0 172.4L622.6 174.3L623.2 176.3" stroke="#cc9900" stroke-dasharray="0 25.04 31.50 9999"/>
<path d="M623.2 176.3L623.7 178.2L624.2 180.2L624.7 182.2L625.2 184.2L625.6 186.2L626.0 188.2L626.4 190.3L626.8 192.3L627.1 194.4L627.5 196.4L627.9 198.4L628.2 200.5L628.6 202.5L629.0 204.5L629.3 206.6L629.7 208.5L630.1 210.5L630.5 212.5L631.0 214.5L631.4 216.4L631.9 218.3L632.4 220.3L632.9 222.2L633.5 224.1L634.0 226.0L634.6 227.8L635.2 229.7L635.8 231.6L636.4 233.4L637.0 235.3L637.6 237.1" stroke="#cc9900" stroke-dasharray="31.32 31.32" stroke-dashoffset="46.98"/>
<path d="M637.6 237.1L638.3 239.0L638.9 240.8L639.6 242.6L640.2 244.5L640.9 246.3L641.6 248.1L642.3 249.9L642.9 251.7L643.6 253.6L644.3 255.4L645.0 257.2L645.7 259.0L646.4 260.8L647.1 262.6L647.8 264.4L648.5 266.2L649.2 268.1L649.8 269.9L650.5 271.8L651.2 273.6L651.8 275.5L652.5 277.3L653.1 279.2L653.8 281.1L654.4 283.0L655.0 284.8L655.6 286.7L656.2 288.6L656.9 290.5L657.5 292.4L658.0 294.3L658.6 296.2L659.2 298.2L659.8 300.1" stroke="#cc9900" stroke-dasharray="33.37 33.37" stroke-dashoffset="50.06"/>
<path d="M659.8 300.1L660.4 302.0L661.0 303.9L661.6 305.8L662.1 307.8L662.7 309.7L663.3 311.6L663.9 313.5L664.4 315.5L665.0 317.4L665.6 319.3L666.2 321.3L666.8 323.2L667.4 325.1L667.9 327.0L668.5 329.0L669.1 330.9L669.8 332.8L670.4 334.7L671.0 336.6L671.7 338.5L672.3 340.4L673.0 342.3L673.7 344.2L674.3 346.0L675.0 347.9L675.7 349.8L676.4 351.7L677.1 353.5L677.8 355.4L678.5 357.3L679.3 359.1L680.0 361.0L680.8 362.8" stroke="#cc9900" stroke-dasharray="33.09 33.09" stroke-dashoffset="49.64"/>
<path d="M680.8 362.8L681.5 364.7L682.3 366.5L683.1 368.3L683.9 370.1L684.7 371.9L685.6 373.7L686.4 375.5L687.3 377.3L688.2 379.1L689.0 380.9L690.0 382.7L690.9 384.4L691.8 386.2L692.8 387.9L693.8 389.6L694.7 391.3L695.8 393.1L696.8 394.8L697.9 396.4L698.9 398.1L700.0 399.8L701.1 401.4L702.3 403.1L703.4 404.7L704.6 406.3L705.8 407.9L707.0 409.5L708.3 411.1L709.5 412.7L710.8 414.2L712.2 415.8L713.5 417.3L714.9 418.8" stroke="#cc9900" stroke-dasharray="32.97 32.97" stroke-dashoffset="49.45"/>
<path d="M714.9 418.8L716.3 420.3L717.7 421.8L719.2 423.2L720.6 424.5L722.1 425.9L723.7 427.1L725.2 428.3L726.8 429.4L728.5 430.5L730.1 431.5L731.8 432.3L733.5 433.1L735.3 433.8L737.1 434.4L738.9 434.8L740.8 435.1L742.7 435.3L744.6 435.5L746.6 435.4L748.6 435.3L750.6 434.9L752.7 434.5L754.7 433.9L756.8 433.3L758.8 432.5L760.9 431.7L762.8 430.8L764.7 429.8L766.6 428.9L768.4 427.8L770.2 426.8L772.0 425.7L773.7 424.5" stroke="#cc9900" stroke-dasharray="33.28 33.28" stroke-dashoffset="49.91"/>
<path d="M773.7 424.5L775.3 423.4L777.0 422.2L778.6 420.9L780.2 419.7L781.8 418.4L783.3 417.1L784.8 415.9L786.3 414.5L787.8 413.2L789.3 411.9L790.8 410.6L792.3 409.3L793.7 408.0L795.2 406.7L796.6 405.4L798.1 404.1L799.6 402.8L801.1 401.6L802.5 400.3L804.0 399.1L805.5 398.0L807.0 396.8L808.6 395.7L810.1 394.6L811.7 393.6L813.4 392.6L815.0 391.7L816.7 390.8L818.4 390.0L820.1 389.2L821.9 388.4L823.7 387.7L825.5 387.1L827.4 386.5L829.3 386.0L831.2 385.5" stroke="#cc9900" stroke-dasharray="35.14 35.14" stroke-dashoffset="52.71"/>
<path d="M831.2 385.5L833.2 385.1L835.1 384.7L837.1 384.4L839.1 384.2L841.2 384.0L843.3 383.9L845.4 383.8L847.5 383.8L849.6 383.8L851.8 383.9L853.9 384.0L856.1 384.1L858.3 384.3L860.5 384.4L862.6 384.5L864.8 384.6L866.9 384.6L869.0 384.7L871.1 384.7L873.2 384.7L875.3 384.6L877.3 384.4L879.3 384.2L881.3 384.0L883.2 383.6L885.1 383.2L887.0 382.8L888.9 382.3L890.7 381.8L892.5 381.2" stroke="#cc9900" stroke-dasharray="30.91 30.91" stroke-dashoffset="46.36"/>
<path d="M892.5 381.2L894.3 380.5L896.0 379.8L897.7 379.1L899.4 378.3L901.1 377.5L902.7 376.6L904.4 375.6L906.0 374.7L907.5 373.7L909.1 372.6L910.6 371.5L912.1 370.4L913.6 369.2L915.1 368.0L916.5 366.8L918.0 365.5L919.4 364.2L920.8 362.8L922.1 361.5L923.5 360.1L924.8 358.7L926.2 357.2L927.5 355.7L928.8 354.2L930.1 352.7L931.3 351.2L932.6 349.6L933.8 348.0L935.1 346.4L936.3 344.8L937.5 343.2L938.7 341.5L939.8 339.8L941.0 338.1L942.1 336.5L943.3 334.7" stroke="#cc9900" stroke-dasharray="35.03 35.03" stroke-dashoffset="52.54"/>
<path d="M943.3 334.7L944.4 333.0L945.5 331.3L946.6 329.6L947.7 327.8L948.8 326.1L949.9 324.4L951.0 322.6L952.1 320.8L953.1 319.1L954.2 317.3L955.2 315.6L956.3 313.8L957.3 312.1L958.3 310.3L959.3 308.6L960.4 306.8L961.4 305.0L962.4 303.3L963.4 301.5L964.4 299.7L965.4 298.0L966.4 296.2L967.3 294.4L968.3 292.7L969.3 290.9L970.2 289.1L971.2 287.3L972.1 285.6L973.1 283.8L974.0 282.0L975.0 280.2L975.9 278.5" stroke="#cc9900" stroke-dasharray="32.54 32.54" stroke-dashoffset="48.81"/>
<path d="M975.9 278.5L976.9 276.7L977.8 274.9L978.7 273.1L979.6 271.4L980.6 269.6L981.5 267.8L982.4 266.0L983.3 264.3L984.2 262.5L985.1 260.7L986.0 258.9L986.9 257.2L987.8 255.4L988.7 253.6L989.6 251.8L990.5 250.0L991.4 248.3L992.2 246.5L993.1 244.7L994.0 242.9L994.9 241.1L995.8 239.3L996.7 237.5L997.5 235.7L998.4 233.9L999.3 232.2L1000.2 230.4L1001.0 228.6L1001.9 226.8L1002.8 225.0L1003.7 223.2L1004.5 221.4L1005.4 219.6" stroke="#cc9900" stroke-dasharray="32.90 32.90" stroke-dashoffset="49.35"/>
<path d="M1005.4 219.6L1006.3 217.9L1007.2 216.1L1008.0 214.3L1008.9 212.5L1009.8 210.7L1010.7 208.9L1011.5 207.1L1012.4 205.4L1013.3 203.6L1014.2 201.8L1015.1 200.0L1016.0 198.2L1016.8 196.4L1017.7 194.7L1018.6 192.9L1019.5 191.1L1020.4 189.3L1021.3 187.6L1022.2 185.8L1023.1 184.0L1024.0 182.2L1024.9 180.5L1025.8 178.7L1026.7 176.9L1027.6 175.1L1028.6 173.4L1029.5 171.6L1030.4 169.8L1031.3 168.1L1032.3 166.3L1033.2 164.5L1034.1 162.8L1035.1 161.0" stroke="#cc9900" stroke-dasharray="32.86 32.86" stroke-dashoffset="49.29"/>
<path d="M1035.1 161.0L1036.0 159.2L1037.0 157.5L1037.9 155.7L1038.9 154.0L1039.9 152.2L1040.8 150.4L1041.8 148.7L1042.8 146.9L1043.8 145.2L1044.8 143.4L1045.8 141.7L1046.8 139.9L1047.8 138.2L1048.8 136.4L1049.8 134.7L1050.9 132.9L1051.9 131.2L1052.9 129.5L1054.0 127.8L1055.1 126.1L1056.1 124.4L1057.2 122.8L1058.3 121.1L1059.4 119.4L1060.5 117.7L1061.6 116.1L1062.7 114.4L1063.8 112.8L1064.9 111.1L1066.1 109.5L1067.2 107.9L1068.4 106.2L1069.6 104.6" stroke="#cc9900" stroke-dasharray="33.08 33.08" stroke-dashoffset="49.61"/>
<path d="M1069.6 104.6L1070.8 103.0L1072.0 101.5L1073.2 99.9L1074.4 98.3L1075.6 96.7L1076.9 95.2L1078.2 93.7L1079.4 92.1L1080.7 90.6L1082.0 89.1L1083.3 87.6L1084.6 86.2L1086.0 84.7L1087.3 83.2L1088.7 81.8L1090.1 80.4L1091.5 79.0L1092.9 77.6L1094.3 76.2L1095.8 74.8L1097.2 73.5L1098.7 72.1L1100.2 70.8L1101.7 69.5L1103.3 68.2L1104.8 66.9L1106.4 65.7L1107.9 64.5L1109.5 63.3L1111.2 62.1L1112.8 60.9L1114.4 59.8L1116.1 58.7L1117.8 57.6" stroke="#cc9900" stroke-dasharray="33.84 33.84" stroke-dashoffset="50.77"/>
<path d="M1117.8 57.6L1119.5 56.6L1121.2 55.6L1122.9 54.7L1124.7 53.8L1126.4 52.9L1128.2 52.0L1130.0 51.2L1131.8 50.5L1133.7 49.8L1135.5 49.1L1137.4 48.5L1139.3 48.0L1141.2 47.5L1143.1 47.0L1145.0 46.7L1147.0 46.3L1149.0 46.0L1151.0 45.7L1153.0 45.5L1155.0 45.4L1157.1 45.3L1159.1 45.4L1161.2 45.4L1163.3 45.6L1165.4 45.7L1167.5 46.0L1169.6 46.2L1171.7 46.6L1173.8 46.9L1175.8 47.3L1177.9 47.7" stroke="#cc9900" stroke-dasharray="31.34 31.34" stroke-dashoffset="47.01"/>
<path d="M1177.9 47.7L1179.9 48.1L1181.9 48.6L1183.9 49.1L1185.9 49.6L1187.8 50.1L1189.8 50.6L1191.7 51.2L1193.7 51.8L1195.6 52.4L1197.5 53.0L1199.3 53.7L1201.2 54.4L1203.1 55.0L1204.9 55.7L1206.8 56.5L1208.6 57.2L1210.4 58.0L1212.2 58.8L1214.0 59.6L1215.8 60.4L1217.6 61.2L1219.4 62.0L1221.1 62.9L1222.9 63.7L1224.7 64.6L1226.4 65.5L1228.2 66.4L1229.9 67.3L1231.7 68.2L1233.4 69.1L1235.2 70.0L1236.9 70.9L1238.7 71.8" stroke="#cc9900" stroke-dasharray="32.83 32.83" stroke-dashoffset="49.24"/>
<path d="M1238.7 71.8L1240.4 72.8L1242.2 73.7L1243.9 74.6L1245.7 75.5L1247.4 76.5L1249.2 77.4L1250.9 78.3L1252.7 79.3L1254.4 80.2L1256.2 81.1L1258.0 82.1L1259.8 83.0L1261.5 83.9L1263.3 84.8L1265.1 85.8L1266.9 86.7L1268.7 87.6L1270.5 88.6L1272.3 89.5L1274.0 90.4L1275.8 91.4L1277.6 92.3L1279.4 93.3L1281.2 94.2L1283.0 95.2L1284.8 96.1L1286.6 97.1L1288.4 98.0L1290.2 99.0L1292.0 100.0L1293.8 100.9L1295.6 101.9L1297.3 102.9L1299.1 103.8" stroke="#cc9900" stroke-dasharray="34.20 34.20" stroke-dashoffset="51.31"/>
<path d="M1299.1 103.8L1300.9 104.8L1302.7 105.8L1304.5 106.8L1306.2 107.8L1308.0 108.8L1309.8 109.8L1311.5 110.8L1313.3 111.8L1315.0 112.8L1316.8 113.9L1318.5 114.9L1320.3 115.9L1322.0 117.0L1323.7 118.0L1325.4 119.1L1327.1 120.2L1328.8 121.2L1330.5 122.3L1332.2 123.4L1333.9 124.5L1335.5 125.5L1337.2 126.7L1338.9 127.8L1340.5 128.9L1342.1 130.0L1343.7 131.2L1345.3 132.3L1346.9 133.5L1348.5 134.7L1350.1 135.9L1351.7 137.1L1353.3 138.3" stroke="#cc9900" stroke-dasharray="32.11 32.11" stroke-dashoffset="48.17"/>
<path d="M1353.3 138.3L1354.8 139.5L1356.4 140.7L1357.9 141.9L1359.4 143.2L1360.9 144.4L1362.5 145.7L1364.0 147.0L1365.5 148.3L1366.9 149.6L1368.4 150.9L1369.9 152.2L1371.4 153.5L1372.8 154.8L1374.3 156.1L1375.7 157.5L1377.1 158.8L1378.6 160.2L1380.0 161.6L1381.4 162.9L1382.8 164.3L1384.2 165.7L1385.5 167.1L1386.9 168.5L1388.3 169.9L1389.7 171.3L1391.0 172.7L1392.4 174.1L1393.7 175.6L1395.0 177.0L1396.4 178.5L1397.7 179.9L1399.0 181.4L1400.3 182.8L1401.6 184.3L1402.9 185.8L1404.2 187.3" stroke="#cc9900" stroke-dasharray="35.39 35.39" stroke-dashoffset="53.09"/>
<path d="M1404.2 187.3L1405.5 188.8L1406.7 190.3L1408.0 191.8L1409.3 193.3L1410.5 194.8L1411.8 196.3L1413.0 197.9L1414.3 199.4L1415.5 200.9L1416.7 202.5L1417.9 204.0L1419.2 205.6L1420.4 207.1L1421.6 208.7L1422.8 210.3L1424.0 211.9L1425.2 213.5L1426.4 215.1L1427.6 216.7L1428.8 218.3L1430.0 219.9L1431.2 221.5L1432.3 223.2L1433.5 224.8L1434.7 226.4L1435.9 228.1L1437.0 229.7L1438.2 231.4L1439.3 233.0L1440.5 234.7L1441.6 236.3L1442.8 238.0" stroke="#cc9900" stroke-dasharray="31.88 31.88" stroke-dashoffset="47.81"/>
<path d="M1442.8 238.0L1443.9 239.6L1445.0 241.3L1446.2 243.0L1447.3 244.6L1448.4 246.3L1449.5 248.0L1450.7 249.7L1451.8 251.4L1452.9 253.0L1454.0 254.7L1455.1 256.4L1456.2 258.1L1457.3 259.8L1458.4 261.5L1459.5 263.2L1460.6 264.9L1461.6 266.6L1462.7 268.3L1463.8 270.0L1464.9 271.8L1466.0 273.5L1467.1 275.2L1468.2 276.9L1469.3 278.6L1470.3 280.3L1471.4 282.1L1472.5 283.8L1473.5 285.5L1474.6 287.2L1475.7 289.0L1476.7 290.7L1477.8 292.4" stroke="#cc9900" stroke-dasharray="32.37 32.37" stroke-dashoffset="48.56"/>
<path d="M1477.8 292.4L1478.9 294.1L1479.9 295.9L1481.0 297.6L1482.0 299.3L1483.1 301.1L1484.1 302.8L1485.2 304.5L1486.2 306.3L1487.3 308.0L1488.3 309.7L1489.4 311.5L1490.4 313.2L1491.4 314.9L1492.5 316.7L1493.5 318.4L1494.5 320.1L1495.5 321.9L1496.6 323.6L1497.6 325.3L1498.6 327.0L1499.6 328.8L1500.6 330.5L1501.6 332.2L1502.7 333.9L1503.7 335.7L1504.7 337.4L1505.7 339.1L1506.7 340.9L1507.7 342.6L1508.7 344.3L1509.7 346.1L1510.7 347.8" stroke="#cc9900" stroke-dasharray="32.21 32.21" stroke-dashoffset="48.31"/>
<path d="M1510.7 347.8L1511.7 349.5L1512.7 351.3L1513.7 353.0L1514.7 354.7L1515.7 356.5L1516.7 358.2L1517.7 359.9L1518.7 361.7L1519.7 363.4L1520.7 365.1L1521.7 366.9L1522.7 368.6L1523.7 370.3L1524.7 372.1L1525.7 373.8L1526.7 375.5L1527.7 377.3L1528.7 379.0L1529.6 380.7L1530.6 382.5L1531.6 384.2L1532.6 386.0L1533.6 387.7L1534.6 389.4L1535.6 391.2L1536.6 392.9L1537.5 394.6L1538.5 396.4L1539.5 398.1L1540.5 399.8L1541.5 401.6L1542.5 403.3L1543.5 405.0" stroke="#cc9900" stroke-dasharray="32.98 32.98" stroke-dashoffset="49.46"/>
<path d="M1543.5 405.0L1544.5 406.8L1545.4 408.5L1546.4 410.2L1547.4 412.0L1548.4 413.7L1549.4 415.4L1550.4 417.2L1551.4 418.9L1552.4 420.6L1553.4 422.4L1554.4 424.1L1555.4 425.8L1556.4 427.6L1557.4 429.3L1558.4 431.0L1559.4 432.7L1560.4 434.5L1561.4 436.2L1562.4 437.9L1563.4 439.7L1564.4 441.4L1565.4 443.1L1566.4 444.8L1567.4 446.6L1568.4 448.3L1569.4 450.0L1570.5 451.7L1571.5 453.5L1572.5 455.2L1573.5 456.9L1574.5 458.6L1575.5 460.4L1576.6 462.1" stroke="#cc9900" stroke-dasharray="32.98 32.98" stroke-dashoffset="49.46"/>
<path d="M1576.6 462.1L1577.6 463.8L1578.6 465.5L1579.6 467.2L1580.7 469.0L1581.7 470.7L1582.7 472.4L1583.8 474.1L1584.8 475.8L1585.8 477.5L1586.9 479.2L1587.9 481.0L1588.9 482.7L1590.0 484.4L1591.0 486.1L1592.1 487.8L1593.1 489.5L1594.2 491.2L1595.2 492.9L1596.3 494.6L1597.3 496.3L1598.4 497.9L1599.4 499.6L1600.5 501.3L1601.5 503.0L1602.6 504.7L1603.6 506.4L1604.7 508.0L1605.8 509.7L1606.8 511.4L1607.9 513.1L1609.0 514.7L1610.0 516.4L1611.1 518.1" stroke="#cc9900" stroke-dasharray="32.91 32.91" stroke-dashoffset="49.36"/>
<path d="M1611.1 518.1L1612.2 519.8L1613.3 521.4L1614.3 523.1L1615.4 524.8L1616.5 526.5L1617.6 528.1L1618.6 529.8L1619.7 531.5L1620.8 533.1L1621.9 534.8L1623.0 536.4L1624.1 538.1L1625.2 539.8L1626.3 541.4L1627.4 543.1L1628.5 544.7L1629.6 546.4L1630.7 548.0L1631.8 549.7L1632.9 551.3L1634.0 553.0L1635.1 554.6L1636.2 556.3L1637.3 557.9L1638.5 559.6L1639.6 561.2L1640.7 562.9L1641.8 564.5L1643.0 566.2L1644.1 567.8L1645.2 569.4L1646.3 571.1L1647.5 572.7L1648.6 574.3" stroke="#cc9900" stroke-dasharray="33.80 33.80" stroke-dashoffset="50.70"/>
<path d="M1648.6 574.3L1649.7 576.0L1650.9 577.6L1652.0 579.2L1653.2 580.8L1654.3 582.5L1655.5 584.1L1656.6 585.7L1657.8 587.3L1658.9 589.0L1660.1 590.6L1661.2 592.2L1662.4 593.8L1663.5 595.4L1664.7 597.0L1665.9 598.6L1667.0 600.3L1668.2 601.9L1669.4 603.5L1670.6 605.1L1671.8 606.8L1673.0 608.4L1674.1 610.0L1675.3 611.6L1676.5 613.3L1677.7 614.9L1678.9 616.5L1680.1 618.1L1681.3 619.7L1682.5 621.3L1683.7 622.9L1684.9 624.5L1686.2 626.1L1687.4 627.8" stroke="#cc9900" stroke-dasharray="33.00 33.00" stroke-dashoffset="49.50"/>
<path d="M1687.4 627.8L1688.6 629.4L1689.8 631.0L1691.0 632.6L1692.2 634.2L1693.5 635.7L1694.7 637.3L1695.9 638.9L1697.2 640.5L1698.4 642.1L1699.6 643.7L1700.9 645.3L1702.1 646.9L1703.3 648.4L1704.6 650.0L1705.8 651.6L1707.1 653.2L1708.3 654.7L1709.6 656.3L1710.9 657.9L1712.1 659.5L1713.4 661.0L1714.6 662.6L1715.9 664.2L1717.2 665.7L1718.4 667.3L1719.7 668.9L1721.0 670.4L1722.3 672.0L1723.6 673.5L1724.8 675.1L1726.1 676.6L1727.4 678.2L1728.7 679.7" stroke="#cc9900" stroke-dasharray="33.20 33.20" stroke-dashoffset="49.80"/>
<path d="M1728.7 679.7L1730.0 681.3L1731.3 682.8L1732.6 684.3L1733.9 685.9L1735.2 687.4L1736.5 688.9L1737.8 690.5L1739.1 692.0L1740.4 693.5L1741.8 695.0L1743.1 696.6L1744.4 698.1L1745.7 699.6L1747.1 701.1L1748.4 702.6L1749.7 704.1L1751.0 705.6L1752.4 707.1L1753.7 708.6L1755.0 710.1L1756.4 711.6L1757.7 713.0L1759.0 714.5L1760.4 716.0L1761.7 717.5L1763.1 718.9L1764.4 720.4L1765.8 721.9L1767.1 723.3L1768.5 724.8L1769.9 726.2L1771.2 727.7L1772.6 729.1" stroke="#cc9900" stroke-dasharray="33.05 33.05" stroke-dashoffset="49.58"/>
<path d="M1772.6 729.1L1774.0 730.6L1775.3 732.0L1776.7 733.5L1778.1 734.9L1779.5 736.4L1780.9 737.8L1782.2 739.2L1783.6 740.7L1785.0 742.1L1786.4 743.5L1787.8 744.9L1789.2 746.4L1790.6 747.8L1792.0 749.2L1793.5 750.6L1794.9 752.0L1796.3 753.4L1797.7 754.8L1799.1 756.2L1800.6 757.6L1802.0 759.0" stroke="#cc9900" stroke-dasharray="33.00 33.00" stroke-dashoffset="49.50"/>
</g>
<text x="191.7" y="1403" font-size="58" text-anchor="middle" textLength="69" lengthAdjust="spacingAndGlyphs">0.7</text>
<text x="460.0" y="1403" font-size="58" text-anchor="middle" textLength="69" lengthAdjust="spacingAndGlyphs">1.0</text>
<text x="728.4" y="1403" font-size="58" text-anchor="middle" textLength="69" lengthAdjust="spacingAndGlyphs">1.3</text>
<text x="996.7" y="1403" font-size="58" text-anchor="middle" textLength="69" lengthAdjust="spacingAndGlyphs">1.6</text>
<text x="1265.0" y="1403" font-size="58" text-anchor="middle" textLength="69" lengthAdjust="spacingAndGlyphs">1.9</text>
<text x="1533.4" y="1403" font-size="58" text-anchor="middle" textLength="69" lengthAdjust="spacingAndGlyphs">2.2</text>
<text x="1801.7" y="1403" font-size="58" text-anchor="middle" textLength="69" lengthAdjust="spacingAndGlyphs">2.5</text>
<text x="164" y="1361.5" font-size="58" text-anchor="end" textLength="69" lengthAdjust="spacingAndGlyphs">0.0</text>
<text x="164" y="1101.4" font-size="58" text-anchor="end" textLength="69" lengthAdjust="spacingAndGlyphs">0.2</text>
<text x="164" y="841.3" font-size="58" text-anchor="end" textLength="69" lengthAdjust="spacingAndGlyphs">0.4</text>
<text x="164" y="581.2" font-size="58" text-anchor="end" textLength="69" lengthAdjust="spacingAndGlyphs">0.6</text>
<text x="164" y="321.1" font-size="58" text-anchor="end" textLength="69" lengthAdjust="spacingAndGlyphs">0.8</text>
<text x="164" y="61.0" font-size="58" text-anchor="end" textLength="69" lengthAdjust="spacingAndGlyphs">1.0</text>
<text x="767" y="1526" font-size="68" stroke="none" textLength="460.5" lengthAdjust="spacingAndGlyphs">Wavelength(µm)</text>
<text transform="translate(66.3,864.5) rotate(-90)" font-size="68" stroke="none" textLength="341" lengthAdjust="spacingAndGlyphs">Absorptivity</text>
<text x="1296.5" y="844" font-size="70" font-style="italic" text-anchor="middle">p</text>
<line x1="1137.5" y1="905.7" x2="1292.5" y2="905.7" stroke="#ff0000" stroke-width="6.3"/>
<text x="1307.5" y="929.0" font-size="69" textLength="241.5" lengthAdjust="spacingAndGlyphs">0.895µm</text>
<line x1="1137.5" y1="997.6" x2="1292.5" y2="997.6" stroke="#00ff00" stroke-width="6.3" stroke-dasharray="38.5 18 9 18"/>
<text x="1307.5" y="1020.9" font-size="69" textLength="208.0" lengthAdjust="spacingAndGlyphs">0.95µm</text>
<line x1="1137.5" y1="1089.3" x2="1292.5" y2="1089.3" stroke="#0000a8" stroke-width="6.3" stroke-dasharray="15 15"/>
<text x="1310.0" y="1112.6" font-size="69" textLength="207.5" lengthAdjust="spacingAndGlyphs">1.05µm</text>
<line x1="1137.5" y1="1181.0" x2="1292.5" y2="1181.0" stroke="#cc9900" stroke-width="6.3" stroke-dasharray="33 33"/>
<text x="1310.0" y="1204.3" font-size="69" textLength="172.5" lengthAdjust="spacingAndGlyphs">1.1µm</text>
</g>
<path d="M281.4 1345.0 v-12.5 M281.4 44.5 v12.5" stroke="#222" stroke-width="3.1"/>
<path d="M370.9 1345.0 v-12.5 M370.9 44.5 v12.5" stroke="#222" stroke-width="3.1"/>
<path d="M460.3 1345.0 v-25 M460.3 44.5 v25" stroke="#444" stroke-width="1.7"/>
<path d="M549.8 1345.0 v-12.5 M549.8 44.5 v12.5" stroke="#222" stroke-width="3.1"/>
<path d="M639.2 1345.0 v-12.5 M639.2 44.5 v12.5" stroke="#222" stroke-width="3.1"/>
<path d="M728.7 1345.0 v-25 M728.7 44.5 v25" stroke="#444" stroke-width="1.7"/>
<path d="M818.1 1345.0 v-12.5 M818.1 44.5 v12.5" stroke="#222" stroke-width="3.1"/>
<path d="M907.6 1345.0 v-12.5 M907.6 44.5 v12.5" stroke="#222" stroke-width="3.1"/>
<path d="M997.0 1345.0 v-25 M997.0 44.5 v25" stroke="#444" stroke-width="1.7"/>
<path d="M1086.4 1345.0 v-12.5 M1086.4 44.5 v12.5" stroke="#222" stroke-width="3.1"/>
<path d="M1175.9 1345.0 v-12.5 M1175.9 44.5 v12.5" stroke="#222" stroke-width="3.1"/>
<path d="M1265.3 1345.0 v-25 M1265.3 44.5 v25" stroke="#444" stroke-width="1.7"/>
<path d="M1354.8 1345.0 v-12.5 M1354.8 44.5 v12.5" stroke="#222" stroke-width="3.1"/>
<path d="M1444.2 1345.0 v-12.5 M1444.2 44.5 v12.5" stroke="#222" stroke-width="3.1"/>
<path d="M1533.7 1345.0 v-25 M1533.7 44.5 v25" stroke="#444" stroke-width="1.7"/>
<path d="M1623.1 1345.0 v-12.5 M1623.1 44.5 v12.5" stroke="#222" stroke-width="3.1"/>
<path d="M1712.6 1345.0 v-12.5 M1712.6 44.5 v12.5" stroke="#222" stroke-width="3.1"/>
<path d="M192.0 1215.0 h13 M1802.0 1215.0 h-13" stroke="#444" stroke-width="1.7"/>
<path d="M192.0 1084.9 h25 M1802.0 1084.9 h-25" stroke="#444" stroke-width="1.7"/>
<path d="M192.0 954.8 h13 M1802.0 954.8 h-13" stroke="#444" stroke-width="1.7"/>
<path d="M192.0 824.8 h25 M1802.0 824.8 h-25" stroke="#444" stroke-width="1.7"/>
<path d="M192.0 694.8 h13 M1802.0 694.8 h-13" stroke="#444" stroke-width="1.7"/>
<path d="M192.0 564.7 h25 M1802.0 564.7 h-25" stroke="#444" stroke-width="1.7"/>
<path d="M192.0 434.6 h13 M1802.0 434.6 h-13" stroke="#444" stroke-width="1.7"/>
<path d="M192.0 304.6 h25 M1802.0 304.6 h-25" stroke="#444" stroke-width="1.7"/>
<path d="M192.0 174.5 h13 M1802.0 174.5 h-13" stroke="#444" stroke-width="1.7"/>
<rect x="192.0" y="44.5" width="1610.0" height="1300.5" fill="none" stroke="#3a3a3a" stroke-width="1.7"/>
</svg></body></html>
